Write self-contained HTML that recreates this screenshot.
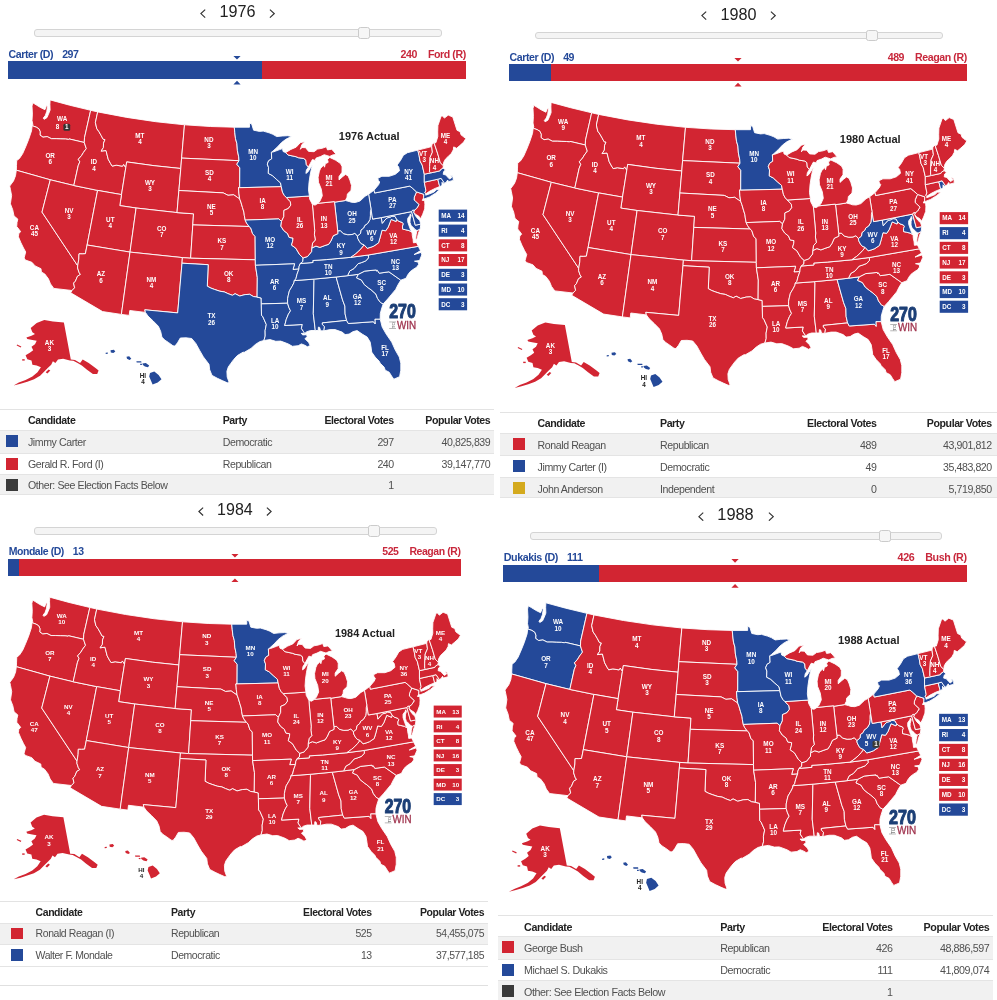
<!DOCTYPE html>
<html lang="en"><head><meta charset="utf-8"><title>Historical Presidential Elections 1976-1988</title>
<style>
html,body{margin:0;padding:0;background:#fff}
body{width:997px;height:1000px;position:relative;overflow:hidden;font-family:"Liberation Sans", Arial, sans-serif}
svg{display:block}
</style></head><body>
<svg style="position:absolute;left:0;top:0" width="997" height="1000" viewBox="0 0 997 1000">
<g transform="translate(0.00 0.00) scale(1.0000)">
<g stroke="#fff" stroke-width="0.9" stroke-linejoin="round">
<path d="M50.1 99.9 L49.9 104.4 L50.1 110.1 L48.5 114.1 L46.9 117.7 L44.1 119.3 L43.3 118.1 L45.3 115.5 L46.7 111.7 L47.5 106.5 L46.6 105.5 L44.9 109.7 L40.1 107.3 L36.1 104.8 L32.8 102.8 L32.0 106.1 L32.4 114.1 L32.0 120.5 L32.8 124.5 L32.2 125.7 L36.3 127.2 L39.0 128.9 L40.2 131.8 L40.0 135.1 L43.0 137.2 L47.2 136.6 L51.4 138.7 L56.2 138.7 L60.9 138.9 L65.6 139.0 L68.7 139.4 L69.0 138.9 L84.3 142.5 L84.5 137.7 L90.7 110.3 L69.6 105.2Z" fill="#d22532"/>
<path d="M32.2 125.7 L31.5 130.9 L28.7 139.3 L25.8 146.5 L22.7 153.6 L19.5 158.4 L16.7 160.6 L16.5 165.6 L16.3 170.2 L50.3 179.8 L73.8 185.5 L78.2 165.7 L79.8 161.8 L78.3 159.3 L81.6 155.5 L83.4 152.5 L86.3 148.6 L85.1 145.0 L84.3 142.5 L69.0 138.9 L68.7 139.4 L65.6 139.0 L60.9 138.9 L56.2 138.7 L51.4 138.7 L47.2 136.6 L43.0 137.2 L40.0 135.1 L40.2 131.8 L39.0 128.9 L36.3 127.2Z" fill="#d22532"/>
<path d="M16.3 170.2 L15.5 175.7 L13.5 180.9 L9.7 186.1 L10.4 189.3 L11.6 195.5 L10.4 203.8 L12.7 209.7 L14.0 215.9 L17.8 219.1 L17.0 222.5 L16.7 226.5 L19.1 229.5 L20.7 231.7 L18.8 233.5 L18.4 236.8 L20.9 242.7 L23.5 248.0 L25.7 252.0 L24.1 258.0 L25.3 260.0 L31.9 262.3 L35.1 265.9 L41.0 268.7 L41.4 272.0 L44.8 274.0 L48.4 278.8 L50.5 283.9 L53.8 288.4 L72.0 290.5 L74.6 287.8 L73.6 283.1 L75.4 281.2 L77.5 276.2 L80.4 274.5 L79.0 272.3 L77.6 268.0 L77.7 265.8 L42.0 212.1 L50.3 179.8Z" fill="#d22532"/>
<path d="M50.3 179.8 L73.8 185.5 L97.6 190.4 L87.1 245.0 L85.4 253.7 L82.2 253.9 L79.0 253.8 L78.8 259.2 L77.7 265.8 L42.0 212.1Z" fill="#d22532"/>
<path d="M97.7 111.9 L90.7 110.3 L84.5 137.7 L84.3 142.5 L85.1 145.0 L86.3 148.6 L83.4 152.5 L81.6 155.5 L78.3 159.3 L79.8 161.8 L78.2 165.7 L73.8 185.5 L97.6 190.4 L121.5 194.6 L125.8 167.6 L123.6 164.4 L122.5 166.2 L116.3 165.2 L112.2 166.1 L110.6 163.6 L108.2 159.2 L106.0 150.5 L101.1 151.1 L103.4 147.6 L103.5 143.2 L105.0 139.6 L103.1 139.2 L101.1 135.4 L98.9 131.6 L96.8 128.7 L95.4 122.5Z" fill="#d22532"/>
<path d="M184.5 124.8 L155.7 121.7 L126.8 117.4 L97.7 111.9 L95.4 122.5 L96.8 128.7 L98.9 131.6 L101.1 135.4 L103.1 139.2 L105.0 139.6 L103.5 143.2 L103.4 147.6 L101.1 151.1 L106.0 150.5 L108.2 159.2 L110.6 163.6 L112.2 166.1 L116.3 165.2 L122.5 166.2 L123.6 164.4 L125.8 167.6 L126.7 161.9 L154.1 165.7 L180.8 168.5 L181.6 158.1Z" fill="#d22532"/>
<path d="M125.8 167.6 L126.7 161.9 L154.1 165.7 L180.8 168.5 L178.9 190.5 L177.0 212.6 L136.1 208.0 L119.8 205.6 L121.5 194.6Z" fill="#d22532"/>
<path d="M97.6 190.4 L121.5 194.6 L119.8 205.6 L136.1 208.0 L130.0 252.1 L87.1 245.0Z" fill="#d22532"/>
<path d="M136.1 208.0 L177.0 212.6 L193.5 213.8 L192.8 224.9 L190.6 258.2 L182.4 257.6 L130.0 252.1Z" fill="#d22532"/>
<path d="M87.1 245.0 L130.0 252.1 L121.4 314.4 L102.6 311.6 L70.7 292.8 L72.0 290.5 L74.6 287.8 L73.6 283.1 L75.4 281.2 L77.5 276.2 L80.4 274.5 L79.0 272.3 L77.6 268.0 L77.7 265.8 L78.8 259.2 L79.0 253.8 L82.2 253.9 L85.4 253.7Z" fill="#d22532"/>
<path d="M130.0 252.1 L182.4 257.6 L182.0 263.2 L177.7 312.9 L144.8 309.8 L145.4 312.4 L129.8 310.5 L129.2 315.4 L121.4 314.4Z" fill="#d22532"/>
<path d="M234.3 127.2 L210.4 126.5 L184.5 124.8 L181.6 158.1 L239.0 160.7 L238.7 156.8 L237.4 150.5 L236.9 143.6 L235.5 138.7 L234.8 132.7Z" fill="#d22532"/>
<path d="M239.0 160.7 L181.6 158.1 L180.8 168.5 L178.9 190.5 L223.3 192.9 L228.0 195.3 L233.7 194.8 L237.7 197.6 L239.7 198.9 L238.9 193.2 L238.5 187.7 L239.7 187.7 L238.5 187.7 L239.7 187.7 L239.8 167.8 L236.8 164.2Z" fill="#d22532"/>
<path d="M239.7 198.9 L237.7 197.6 L233.7 194.8 L228.0 195.3 L223.3 192.9 L178.9 190.5 L177.0 212.6 L193.5 213.8 L192.8 224.9 L249.1 226.5 L246.6 223.2 L245.2 220.1 L244.3 215.4 L243.9 212.1 L242.5 207.6 L240.9 202.1Z" fill="#d22532"/>
<path d="M249.1 226.5 L192.8 224.9 L190.6 258.2 L255.3 259.8 L255.1 236.4 L252.6 233.7 L250.8 228.1Z" fill="#d22532"/>
<path d="M182.4 257.6 L190.6 258.2 L255.3 259.8 L255.4 265.3 L257.3 277.5 L257.1 297.1 L253.3 296.5 L249.7 294.3 L245.1 294.6 L239.7 296.0 L235.1 293.7 L232.4 295.3 L227.9 293.6 L224.3 291.9 L219.8 291.2 L214.4 289.4 L210.9 288.1 L207.3 286.2 L208.2 264.7 L182.0 263.2Z" fill="#d22532"/>
<path d="M182.0 263.2 L208.2 264.7 L207.3 286.2 L210.9 288.1 L214.4 289.4 L219.8 291.2 L224.3 291.9 L227.9 293.6 L232.4 295.3 L235.1 293.7 L239.7 296.0 L245.1 294.6 L249.7 294.3 L253.3 296.5 L257.1 297.1 L261.2 298.0 L261.3 303.9 L261.5 315.2 L262.9 316.8 L266.3 324.5 L265.1 330.6 L265.2 336.1 L263.9 340.5 L259.6 341.7 L255.3 344.5 L251.0 348.4 L244.3 352.3 L243.0 352.2 L237.3 355.6 L233.8 359.4 L230.8 363.4 L228.3 367.0 L226.9 371.3 L227.2 377.0 L229.2 382.6 L227.3 382.8 L222.3 380.6 L217.4 378.3 L212.0 375.4 L209.7 369.8 L209.0 364.3 L203.4 356.9 L199.8 350.7 L195.8 343.4 L191.7 338.5 L186.0 337.8 L180.3 338.0 L177.5 342.8 L174.9 346.1 L173.0 345.8 L168.4 342.4 L164.8 340.1 L161.9 337.1 L160.7 331.5 L158.4 326.3 L153.2 321.0 L148.0 316.1 L145.4 312.4 L144.8 309.8 L177.7 312.9Z" fill="#244999"/>
<path d="M291.6 136.4 L287.8 135.7 L282.2 136.0 L276.7 136.6 L272.9 134.3 L269.1 132.8 L263.2 131.1 L259.5 131.4 L253.6 130.2 L251.7 124.0 L249.5 123.1 L249.5 127.2 L234.3 127.2 L234.8 132.7 L235.5 138.7 L236.9 143.6 L237.4 150.5 L238.7 156.8 L239.0 160.7 L236.8 164.2 L239.8 167.8 L239.7 187.7 L281.3 186.7 L280.5 182.9 L276.3 179.2 L272.3 175.5 L268.3 173.4 L268.5 167.4 L267.3 164.1 L268.6 160.8 L271.7 158.8 L271.4 152.3 L272.8 151.2 L277.2 147.2 L281.5 142.6 L285.8 139.3Z" fill="#244999"/>
<path d="M238.5 187.7 L239.7 187.7 L281.3 186.7 L282.5 192.2 L284.3 195.4 L286.4 197.5 L290.3 201.7 L290.8 205.1 L288.3 208.5 L283.9 210.4 L283.8 216.6 L281.5 221.4 L278.7 218.9 L245.2 220.1 L244.3 215.4 L243.9 212.1 L242.5 207.6 L240.9 202.1 L239.7 198.9 L238.9 193.2Z" fill="#d22532"/>
<path d="M245.2 220.1 L278.7 218.9 L281.5 221.4 L280.9 226.2 L283.7 230.5 L287.6 233.6 L289.1 237.4 L293.0 238.1 L292.7 241.1 L291.5 245.1 L295.8 248.2 L299.6 254.6 L303.1 257.9 L302.8 261.6 L300.3 263.5 L299.1 266.3 L298.9 269.1 L293.0 269.5 L294.6 263.8 L255.4 265.3 L255.3 259.8 L255.1 236.4 L252.6 233.7 L250.8 228.1 L249.1 226.5 L246.6 223.2Z" fill="#244999"/>
<path d="M255.4 265.3 L294.6 263.8 L293.0 269.5 L298.9 269.1 L297.0 274.3 L295.9 278.8 L294.3 280.6 L293.9 282.8 L292.1 286.3 L289.4 290.8 L288.3 295.3 L287.6 298.7 L287.6 303.2 L261.3 303.9 L261.2 298.0 L257.1 297.1 L257.3 277.5Z" fill="#244999"/>
<path d="M261.3 303.9 L287.6 303.2 L288.9 307.5 L290.5 310.8 L288.4 314.2 L286.3 319.3 L284.7 325.5 L302.3 324.5 L301.4 328.4 L303.5 331.6 L304.8 333.4 L301.2 333.4 L302.8 334.9 L306.6 334.7 L307.2 336.8 L304.9 338.7 L308.5 342.3 L310.2 345.5 L307.4 346.8 L304.9 345.3 L301.4 343.9 L298.2 345.7 L292.4 346.3 L288.4 344.0 L283.5 342.1 L280.6 341.1 L275.8 341.3 L270.0 339.6 L263.9 340.5 L265.2 336.1 L265.1 330.6 L266.3 324.5 L262.9 316.8 L261.5 315.2Z" fill="#244999"/>
<path d="M294.3 280.6 L313.0 279.2 L314.0 280.3 L313.3 313.7 L315.3 330.5 L310.6 330.5 L306.8 331.7 L304.8 333.4 L303.5 331.6 L301.4 328.4 L302.3 324.5 L284.7 325.5 L286.3 319.3 L288.4 314.2 L290.5 310.8 L288.9 307.5 L287.6 303.2 L287.6 298.7 L288.3 295.3 L289.4 290.8 L292.1 286.3 L293.9 282.8Z" fill="#244999"/>
<path d="M313.0 279.2 L336.1 277.0 L342.6 300.1 L344.9 306.1 L345.1 313.9 L346.6 320.4 L322.3 322.9 L322.4 324.6 L324.5 326.6 L323.9 330.8 L320.6 330.8 L319.6 327.4 L318.4 327.1 L318.2 330.5 L315.3 330.5 L313.3 313.7 L314.0 280.3Z" fill="#244999"/>
<path d="M323.9 330.8 L330.1 329.6 L335.1 329.6 L342.1 332.1 L345.1 334.6 L349.1 334.1 L353.1 331.6 L357.1 330.6 L362.2 334.1 L367.2 337.1 L370.2 342.1 L371.2 348.1 L371.7 352.1 L375.2 357.1 L379.2 361.2 L380.2 363.2 L384.2 367.2 L385.2 370.2 L389.2 372.2 L391.7 376.2 L393.8 379.2 L399.6 376.7 L400.8 370.2 L400.8 363.2 L399.3 357.1 L395.3 350.1 L391.7 342.1 L386.2 334.1 L382.2 327.1 L380.2 319.1 L374.9 319.1 L375.1 323.8 L373.4 321.7 L348.3 323.5 L346.6 320.4 L322.3 322.9 L322.4 324.6 L324.5 326.6Z" fill="#244999"/>
<path d="M336.1 277.0 L347.5 275.7 L358.3 274.3 L356.6 277.9 L361.4 280.0 L364.3 284.6 L368.5 288.0 L371.1 289.8 L375.9 294.1 L377.5 298.4 L380.4 302.4 L383.2 303.9 L381.5 309.0 L380.3 313.6 L380.2 319.1 L374.9 319.1 L375.1 323.8 L373.4 321.7 L348.3 323.5 L346.6 320.4 L345.1 313.9 L344.9 306.1 L342.6 300.1Z" fill="#244999"/>
<path d="M358.3 274.3 L364.7 271.1 L376.3 269.9 L376.5 271.0 L377.4 270.3 L379.2 273.2 L388.9 271.8 L400.8 280.2 L398.1 284.6 L395.7 289.4 L391.7 294.2 L387.7 299.0 L383.2 303.9 L380.4 302.4 L377.5 298.4 L375.9 294.1 L371.1 289.8 L368.5 288.0 L364.3 284.6 L361.4 280.0 L356.6 277.9Z" fill="#244999"/>
<path d="M368.3 255.0 L418.4 246.3 L419.5 248.8 L420.6 250.6 L414.0 254.6 L421.2 252.4 L421.8 254.9 L419.8 259.7 L418.9 260.6 L414.5 261.2 L418.2 262.1 L418.6 264.5 L416.6 267.3 L413.3 269.3 L410.1 271.7 L407.7 274.9 L406.1 278.2 L400.8 280.2 L388.9 271.8 L379.2 273.2 L377.4 270.3 L376.5 271.0 L376.3 269.9 L364.7 271.1 L358.3 274.3 L347.5 275.7 L349.8 270.9 L354.0 268.5 L358.2 263.6 L361.2 262.7 L365.8 260.9 L368.5 257.8Z" fill="#244999"/>
<path d="M350.9 257.3 L326.3 259.6 L312.8 260.5 L312.9 262.5 L300.3 263.5 L299.1 266.3 L298.9 269.1 L297.0 274.3 L295.9 278.8 L294.3 280.6 L313.0 279.2 L336.1 277.0 L347.5 275.7 L349.8 270.9 L354.0 268.5 L358.2 263.6 L361.2 262.7 L365.8 260.9 L368.5 257.8 L368.3 255.0Z" fill="#244999"/>
<path d="M357.4 236.0 L354.9 233.2 L352.0 234.5 L347.8 234.7 L343.3 233.6 L340.4 230.6 L337.7 230.9 L337.8 233.7 L333.3 235.7 L330.9 241.0 L328.7 244.3 L324.9 245.5 L319.9 247.4 L315.9 246.1 L311.7 248.1 L311.6 251.5 L308.8 255.0 L307.6 256.5 L303.1 257.9 L302.8 261.6 L300.3 263.5 L312.9 262.5 L312.8 260.5 L326.3 259.6 L350.9 257.3 L355.6 253.9 L358.7 251.2 L361.7 248.0 L364.2 244.9 L361.1 243.6 L359.5 241.6 L357.8 238.4Z" fill="#244999"/>
<path d="M368.3 255.0 L418.4 246.3 L416.4 242.4 L413.4 242.8 L413.1 239.4 L412.3 235.6 L412.1 232.2 L409.1 230.6 L405.4 229.7 L402.6 229.1 L402.5 226.1 L403.4 223.9 L402.4 222.5 L398.9 221.3 L396.6 219.3 L396.1 221.5 L391.2 219.4 L388.2 227.1 L385.7 230.8 L382.0 230.2 L380.2 237.2 L378.5 242.9 L373.8 246.1 L371.0 247.2 L367.2 248.3 L364.2 244.9 L361.7 248.0 L358.7 251.2 L355.6 253.9 L350.9 257.3Z" fill="#d22532"/>
<path d="M417.0 230.6 L416.1 234.8 L415.7 238.9 L416.4 240.2 L417.5 237.3 L418.4 233.2 L420.2 229.0Z" fill="#d22532"/>
<path d="M357.4 236.0 L360.5 233.5 L360.9 230.1 L363.6 228.0 L364.8 225.4 L367.6 223.5 L369.9 219.7 L370.4 215.5 L370.4 211.8 L371.0 209.0 L372.6 219.1 L381.3 217.6 L382.3 223.3 L384.9 220.0 L387.1 217.9 L390.4 217.1 L391.9 216.1 L395.0 216.4 L396.6 219.3 L396.1 221.5 L391.2 219.4 L388.2 227.1 L385.7 230.8 L382.0 230.2 L380.2 237.2 L378.5 242.9 L373.8 246.1 L371.0 247.2 L367.2 248.3 L364.2 244.9 L361.1 243.6 L359.5 241.6 L357.8 238.4Z" fill="#244999"/>
<path d="M381.3 217.6 L411.6 211.6 L415.3 225.2 L420.8 224.1 L420.2 229.0 L417.0 230.6 L414.9 229.4 L413.8 227.9 L411.1 225.6 L410.0 222.5 L410.1 219.0 L411.1 215.4 L410.3 213.9 L409.8 215.5 L407.7 218.4 L407.7 221.8 L409.5 227.1 L410.7 230.3 L412.1 232.2 L409.1 230.6 L405.4 229.7 L402.6 229.1 L402.5 226.1 L403.4 223.9 L402.4 222.5 L398.9 221.3 L396.6 219.3 L395.0 216.4 L391.9 216.1 L390.4 217.1 L387.1 217.9 L384.9 220.0 L382.3 223.3Z" fill="#244999"/>
<path d="M411.6 211.6 L412.5 210.2 L414.5 210.1 L413.8 212.3 L414.8 214.6 L416.7 217.6 L419.7 220.4 L420.8 224.1 L415.3 225.2Z" fill="#244999"/>
<path d="M413.8 212.3 L415.6 214.4 L418.6 216.0 L420.6 218.7 L422.6 214.6 L424.7 208.9 L424.9 204.3 L424.6 200.4 L422.3 200.4 L423.6 197.8 L423.8 194.3 L416.5 191.9 L414.3 197.1 L414.1 200.0 L415.5 201.3 L419.0 204.6 L416.6 208.5 L414.5 210.1Z" fill="#d22532"/>
<path d="M374.1 190.1 L368.6 194.3 L371.0 209.0 L372.6 219.1 L381.3 217.6 L411.6 211.6 L412.5 210.2 L414.5 210.1 L416.6 208.5 L419.0 204.6 L415.5 201.3 L414.1 200.0 L414.3 197.1 L416.5 191.9 L412.6 188.3 L409.8 186.1 L374.6 193.0Z" fill="#244999"/>
<path d="M417.8 150.1 L407.4 152.7 L403.4 155.3 L400.5 160.4 L397.1 165.1 L398.7 167.0 L399.5 170.8 L395.3 174.3 L389.2 176.3 L381.9 176.3 L377.8 178.3 L378.4 180.6 L379.7 182.0 L378.6 184.7 L374.1 190.1 L374.6 193.0 L409.8 186.1 L412.6 188.3 L416.5 191.9 L423.8 194.3 L423.6 197.8 L424.5 198.9 L429.6 196.9 L435.5 193.2 L439.9 189.5 L436.3 189.8 L433.9 192.1 L429.7 193.8 L425.7 195.2 L425.8 193.8 L424.9 192.9 L425.9 190.4 L424.3 182.2 L424.3 174.2 L422.2 165.1 L420.0 161.0 L419.1 155.6Z" fill="#244999"/>
<path d="M424.3 182.2 L437.8 179.2 L439.5 185.8 L439.3 186.8 L435.1 188.4 L429.8 191.1 L425.8 193.8 L424.9 192.9 L425.9 190.4Z" fill="#d22532"/>
<path d="M437.8 179.2 L441.1 178.3 L442.9 180.9 L444.6 183.3 L443.2 183.7 L442.0 182.3 L442.0 185.5 L439.3 186.8 L439.5 185.8Z" fill="#244999"/>
<path d="M424.3 182.2 L424.3 174.2 L430.7 172.9 L439.8 170.9 L440.3 169.8 L443.0 168.0 L445.4 169.9 L443.7 171.5 L443.2 174.3 L445.9 175.0 L447.8 177.3 L449.6 179.1 L452.0 177.3 L450.2 175.3 L452.0 175.6 L453.0 177.6 L453.3 180.4 L448.4 181.7 L447.7 180.0 L446.2 182.3 L444.6 183.3 L442.9 180.9 L441.1 178.3 L437.8 179.2Z" fill="#244999"/>
<path d="M417.8 150.1 L431.7 146.6 L432.4 152.2 L430.1 157.4 L429.9 161.4 L429.6 166.6 L429.6 171.8 L430.7 172.9 L424.3 174.2 L422.2 165.1 L420.0 161.0 L419.1 155.6Z" fill="#d22532"/>
<path d="M431.7 146.6 L431.9 144.4 L434.0 142.6 L437.5 153.1 L440.3 162.7 L443.4 165.7 L443.0 168.0 L440.3 169.8 L439.8 170.9 L430.7 172.9 L429.6 171.8 L429.6 166.6 L429.9 161.4 L430.1 157.4 L432.4 152.2Z" fill="#d22532"/>
<path d="M443.4 165.7 L443.7 162.3 L445.6 158.9 L448.2 156.5 L451.4 153.3 L453.3 149.8 L453.7 146.9 L456.6 148.3 L459.8 145.6 L463.7 142.1 L465.8 138.5 L462.6 136.1 L461.0 134.8 L460.1 131.7 L457.0 130.3 L452.8 117.0 L448.2 115.1 L444.4 118.1 L442.6 116.0 L441.2 116.0 L437.9 125.6 L437.7 131.9 L437.8 136.5 L435.9 142.7 L434.0 142.6 L437.5 153.1 L440.3 162.7Z" fill="#d22532"/>
<path d="M368.6 194.3 L365.0 196.3 L359.9 201.1 L355.2 202.5 L351.4 202.3 L349.2 201.5 L345.4 200.5 L334.5 202.2 L337.7 230.9 L340.4 230.6 L343.3 233.6 L347.8 234.7 L352.0 234.5 L354.9 233.2 L357.4 236.0 L360.5 233.5 L360.9 230.1 L363.6 228.0 L364.8 225.4 L367.6 223.5 L369.9 219.7 L370.4 215.5 L370.4 211.8 L371.0 209.0Z" fill="#244999"/>
<path d="M318.0 203.3 L315.1 205.1 L312.4 204.5 L314.7 230.5 L314.4 234.5 L315.3 240.0 L312.6 243.0 L311.7 248.1 L315.9 246.1 L319.9 247.4 L324.9 245.5 L328.7 244.3 L330.9 241.0 L333.3 235.7 L337.8 233.7 L337.7 230.9 L334.5 202.2 L334.4 201.6Z" fill="#d22532"/>
<path d="M312.4 204.5 L311.4 202.4 L309.7 199.2 L309.4 196.0 L286.4 197.5 L290.3 201.7 L290.8 205.1 L288.3 208.5 L283.9 210.4 L283.8 216.6 L281.5 221.4 L280.9 226.2 L283.7 230.5 L287.6 233.6 L289.1 237.4 L293.0 238.1 L292.7 241.1 L291.5 245.1 L295.8 248.2 L299.6 254.6 L303.1 257.9 L307.6 256.5 L308.8 255.0 L311.6 251.5 L311.7 248.1 L312.6 243.0 L315.3 240.0 L314.4 234.5 L314.7 230.5Z" fill="#d22532"/>
<path d="M309.4 196.0 L308.5 189.9 L309.0 182.6 L310.0 175.8 L311.1 170.2 L312.5 164.8 L310.1 168.6 L307.7 172.2 L305.9 173.4 L306.4 170.1 L308.4 167.1 L306.3 164.5 L305.9 160.2 L303.8 158.5 L298.4 157.7 L296.0 156.7 L288.1 155.0 L285.7 152.6 L283.1 151.5 L282.5 148.6 L279.6 149.6 L273.6 151.8 L271.4 152.3 L271.7 158.8 L268.6 160.8 L267.3 164.1 L268.5 167.4 L268.3 173.4 L272.3 175.5 L276.3 179.2 L280.5 182.9 L281.3 186.7 L282.5 192.2 L284.3 195.4 L286.4 197.5Z" fill="#244999"/>
<path d="M345.4 200.5 L347.0 197.3 L347.4 193.9 L351.0 190.6 L351.5 185.5 L349.9 180.1 L348.1 175.9 L345.5 174.4 L342.6 176.7 L339.0 179.9 L339.0 176.6 L342.0 172.3 L342.1 166.7 L340.5 163.6 L335.8 160.3 L329.7 157.4 L327.5 159.6 L328.2 162.3 L325.3 163.8 L324.5 167.2 L323.8 165.0 L320.7 168.2 L319.4 171.1 L318.1 177.3 L318.5 182.3 L321.3 189.2 L322.3 195.8 L320.0 201.0 L318.0 203.3 L334.4 201.6 L334.5 202.2Z" fill="#d22532"/>
<path d="M308.4 167.1 L311.1 161.9 L312.4 159.6 L315.2 160.4 L316.1 158.1 L320.6 156.5 L324.2 154.7 L329.7 156.4 L332.8 154.9 L336.2 154.4 L333.9 151.7 L331.7 149.2 L327.5 149.9 L326.4 146.8 L322.0 148.3 L317.5 149.1 L314.0 151.7 L308.6 151.4 L305.6 147.7 L301.8 147.5 L300.4 149.3 L301.9 144.5 L305.0 141.5 L300.3 142.7 L296.1 147.2 L290.9 149.4 L285.7 152.6 L288.1 155.0 L296.0 156.7 L298.4 157.7 L303.8 158.5 L305.9 160.2 L306.3 164.5Z" fill="#d22532"/>
</g>
<g fill="#d22532">
<path d="M30.7 328.0 L36.7 322.9 L44.3 320.0 L52.9 321.5 L63.9 322.6 L70.8 359.6 L75.0 359.9 L80.1 363.0 L82.7 359.6 L88.7 363.0 L95.5 368.1 L98.6 370.6 L97.2 374.1 L92.9 374.1 L87.0 369.8 L81.8 365.5 L77.6 363.0 L73.3 360.8 L69.9 360.4 L63.1 358.7 L58.0 359.6 L55.4 363.0 L52.9 361.3 L51.2 364.7 L47.7 368.1 L44.3 371.5 L40.1 375.8 L34.1 379.2 L27.3 381.7 L20.5 383.8 L13.6 385.5 L18.8 382.6 L25.6 380.0 L32.4 376.6 L37.5 372.3 L40.9 367.2 L36.7 365.5 L32.4 364.7 L31.5 360.4 L27.3 359.2 L25.6 355.3 L29.8 352.7 L33.2 350.2 L31.5 346.8 L35.0 344.2 L36.7 340.8 L32.4 340.0 L27.3 339.1 L26.4 337.4 L31.5 335.7 L35.0 334.0 L32.4 332.3Z"/>
<path d="M17.1 344.6 L21.3 346.4 L20.8 347.6 L16.7 345.6Z"/>
<path d="M45.7 372.3 L48.6 369.5 L50.3 370.6 L47.4 373.5Z"/>
<path d="M22.2 359.2 L24.7 359.2 L24.7 360.6 L22.2 360.6Z"/>
</g><g fill="#244999">
<path d="M110.5 350.2 L113.9 349.7 L115.3 351.4 L113.4 353.1 L110.8 352.4Z"/>
<path d="M105.7 352.7 L107.8 352.4 L107.8 353.8 L105.7 354.1Z"/>
<path d="M126.5 356.7 L129.2 356.2 L131.3 358.7 L129.6 359.9 L127.0 358.7Z"/>
<path d="M136.4 361.3 L141.2 361.3 L141.5 362.6 L136.7 362.6Z"/>
<path d="M142.4 363.5 L145.8 363.0 L149.2 365.5 L148.0 367.2 L144.9 366.4 L142.9 365.0Z"/>
<path d="M140.2 363.8 L141.9 363.8 L141.9 365.0 L140.2 365.0Z"/>
<path d="M150.0 372.9 L154.3 371.5 L158.6 374.9 L161.5 379.2 L157.7 382.6 L152.6 384.6 L150.9 380.4 L149.2 376.6Z"/>
</g>
<rect x="438.7" y="209.6" width="28.4" height="12.1" fill="#244999"/>
<rect x="438.7" y="224.6" width="28.4" height="12.1" fill="#244999"/>
<rect x="438.7" y="239.3" width="28.4" height="12.1" fill="#d22532"/>
<rect x="438.7" y="254.0" width="28.4" height="12.1" fill="#d22532"/>
<rect x="438.7" y="268.8" width="28.4" height="12.1" fill="#244999"/>
<rect x="438.7" y="283.5" width="28.4" height="12.1" fill="#244999"/>
<rect x="438.7" y="298.2" width="28.4" height="12.1" fill="#244999"/>
<g font-family="Liberation Sans, Arial, sans-serif" font-weight="bold" font-size="6.3" fill="#fff" text-anchor="middle">
<text x="62.2" y="121.0">WA</text>
<text x="57.6" y="129.4">8</text>
<rect x="63.4" y="123.7" width="6.8" height="7" rx="1.5" fill="#333"/>
<text x="66.8" y="129.4">1</text>
<text x="50.2" y="157.9">OR</text>
<text x="50.2" y="164.2">6</text>
<text x="94.0" y="164.2">ID</text>
<text x="94.0" y="170.5">4</text>
<text x="139.9" y="137.8">MT</text>
<text x="139.9" y="144.1">4</text>
<text x="208.9" y="141.6">ND</text>
<text x="208.9" y="147.9">3</text>
<text x="209.4" y="174.9">SD</text>
<text x="209.4" y="181.2">4</text>
<text x="150.0" y="185.0">WY</text>
<text x="150.0" y="191.3">3</text>
<text x="211.4" y="208.8">NE</text>
<text x="211.4" y="215.1">5</text>
<text x="69.0" y="213.1">NV</text>
<text x="69.0" y="219.4">3</text>
<text x="110.3" y="222.1">UT</text>
<text x="110.3" y="228.4">4</text>
<text x="161.7" y="230.9">CO</text>
<text x="161.7" y="237.2">7</text>
<text x="221.9" y="243.4">KS</text>
<text x="221.9" y="249.7">7</text>
<text x="34.4" y="230.1">CA</text>
<text x="34.4" y="236.4">45</text>
<text x="101.0" y="276.3">AZ</text>
<text x="101.0" y="282.6">6</text>
<text x="151.4" y="281.7">NM</text>
<text x="151.4" y="288.0">4</text>
<text x="228.7" y="276.0">OK</text>
<text x="228.7" y="282.3">8</text>
<text x="211.4" y="318.2">TX</text>
<text x="211.4" y="324.5">26</text>
<text x="253.1" y="153.6">MN</text>
<text x="253.1" y="159.9">10</text>
<text x="289.7" y="173.7">WI</text>
<text x="289.7" y="180.0">11</text>
<text x="329.0" y="180.0">MI</text>
<text x="329.0" y="186.3">21</text>
<text x="262.6" y="202.5">IA</text>
<text x="262.6" y="208.8">8</text>
<text x="299.7" y="221.8">IL</text>
<text x="299.7" y="228.1">26</text>
<text x="324.0" y="221.3">IN</text>
<text x="324.0" y="227.6">13</text>
<text x="352.1" y="216.3">OH</text>
<text x="352.1" y="222.6">25</text>
<text x="392.5" y="201.8">PA</text>
<text x="392.5" y="208.1">27</text>
<text x="408.5" y="173.7">NY</text>
<text x="408.5" y="180.0">41</text>
<text x="423.1" y="156.1">VT</text>
<text x="424.3" y="162.4">3</text>
<text x="434.4" y="163.2">NH</text>
<text x="434.4" y="169.5">4</text>
<text x="445.6" y="138.1">ME</text>
<text x="445.6" y="144.4">4</text>
<text x="371.7" y="234.6">WV</text>
<text x="371.7" y="240.9">6</text>
<text x="393.5" y="238.1">VA</text>
<text x="393.5" y="244.4">12</text>
<text x="341.1" y="248.2">KY</text>
<text x="341.1" y="254.5">9</text>
<text x="270.1" y="241.9">MO</text>
<text x="270.1" y="248.2">12</text>
<text x="328.3" y="269.0">TN</text>
<text x="328.3" y="275.3">10</text>
<text x="395.5" y="264.0">NC</text>
<text x="395.5" y="270.3">13</text>
<text x="274.6" y="283.5">AR</text>
<text x="274.6" y="289.8">6</text>
<text x="381.7" y="284.8">SC</text>
<text x="381.7" y="291.1">8</text>
<text x="301.5" y="303.2">MS</text>
<text x="301.5" y="309.5">7</text>
<text x="327.3" y="300.4">AL</text>
<text x="327.3" y="306.7">9</text>
<text x="357.4" y="298.7">GA</text>
<text x="357.4" y="305.0">12</text>
<text x="275.1" y="323.0">LA</text>
<text x="275.1" y="329.3">10</text>
<text x="385.0" y="350.1">FL</text>
<text x="385.0" y="356.4">17</text>
<text x="49.4" y="345.1">AK</text>
<text x="49.4" y="351.4">3</text>
<text x="142.9" y="377.7" fill="#222">HI</text>
<text x="142.9" y="384.0" fill="#222">4</text>
<text x="441.3" y="217.9" text-anchor="start">MA</text>
<text x="464.6" y="217.9" text-anchor="end">14</text>
<text x="441.3" y="232.9" text-anchor="start">RI</text>
<text x="464.6" y="232.9" text-anchor="end">4</text>
<text x="441.3" y="247.6" text-anchor="start">CT</text>
<text x="464.6" y="247.6" text-anchor="end">8</text>
<text x="441.3" y="262.3" text-anchor="start">NJ</text>
<text x="464.6" y="262.3" text-anchor="end">17</text>
<text x="441.3" y="277.1" text-anchor="start">DE</text>
<text x="464.6" y="277.1" text-anchor="end">3</text>
<text x="441.3" y="291.8" text-anchor="start">MD</text>
<text x="464.6" y="291.8" text-anchor="end">10</text>
<text x="441.3" y="306.5" text-anchor="start">DC</text>
<text x="464.6" y="306.5" text-anchor="end">3</text>
</g>
<text x="369.2" y="140.2" font-family="Liberation Sans, Arial, sans-serif" font-weight="bold" font-size="11" fill="#222" text-anchor="middle">1976 Actual</text>
<g font-family="Liberation Sans, Arial, sans-serif" font-weight="bold"><text x="389.2" y="318.1" font-size="19.6" fill="#1c3f76" textLength="26.6" lengthAdjust="spacingAndGlyphs" stroke="#1c3f76" stroke-width="1.1" stroke-linejoin="round">270</text><text x="397.0" y="328.7" font-size="10.4" font-weight="normal" fill="#a0354f" stroke="#a0354f" stroke-width="0.3" textLength="19.2" lengthAdjust="spacingAndGlyphs">WIN</text><text transform="translate(395.3,328.3) rotate(-90)" font-size="4.4" fill="#858585" textLength="6.2" lengthAdjust="spacingAndGlyphs">TO</text><rect x="389.2" y="321.6" width="6.8" height="0.7" fill="#999"/><rect x="389.2" y="328.0" width="6.8" height="0.7" fill="#999"/></g>
</g>
<g transform="translate(501.00 2.50) scale(1.0000)">
<g stroke="#fff" stroke-width="0.9" stroke-linejoin="round">
<path d="M50.1 99.9 L49.9 104.4 L50.1 110.1 L48.5 114.1 L46.9 117.7 L44.1 119.3 L43.3 118.1 L45.3 115.5 L46.7 111.7 L47.5 106.5 L46.6 105.5 L44.9 109.7 L40.1 107.3 L36.1 104.8 L32.8 102.8 L32.0 106.1 L32.4 114.1 L32.0 120.5 L32.8 124.5 L32.2 125.7 L36.3 127.2 L39.0 128.9 L40.2 131.8 L40.0 135.1 L43.0 137.2 L47.2 136.6 L51.4 138.7 L56.2 138.7 L60.9 138.9 L65.6 139.0 L68.7 139.4 L69.0 138.9 L84.3 142.5 L84.5 137.7 L90.7 110.3 L69.6 105.2Z" fill="#d22532"/>
<path d="M32.2 125.7 L31.5 130.9 L28.7 139.3 L25.8 146.5 L22.7 153.6 L19.5 158.4 L16.7 160.6 L16.5 165.6 L16.3 170.2 L50.3 179.8 L73.8 185.5 L78.2 165.7 L79.8 161.8 L78.3 159.3 L81.6 155.5 L83.4 152.5 L86.3 148.6 L85.1 145.0 L84.3 142.5 L69.0 138.9 L68.7 139.4 L65.6 139.0 L60.9 138.9 L56.2 138.7 L51.4 138.7 L47.2 136.6 L43.0 137.2 L40.0 135.1 L40.2 131.8 L39.0 128.9 L36.3 127.2Z" fill="#d22532"/>
<path d="M16.3 170.2 L15.5 175.7 L13.5 180.9 L9.7 186.1 L10.4 189.3 L11.6 195.5 L10.4 203.8 L12.7 209.7 L14.0 215.9 L17.8 219.1 L17.0 222.5 L16.7 226.5 L19.1 229.5 L20.7 231.7 L18.8 233.5 L18.4 236.8 L20.9 242.7 L23.5 248.0 L25.7 252.0 L24.1 258.0 L25.3 260.0 L31.9 262.3 L35.1 265.9 L41.0 268.7 L41.4 272.0 L44.8 274.0 L48.4 278.8 L50.5 283.9 L53.8 288.4 L72.0 290.5 L74.6 287.8 L73.6 283.1 L75.4 281.2 L77.5 276.2 L80.4 274.5 L79.0 272.3 L77.6 268.0 L77.7 265.8 L42.0 212.1 L50.3 179.8Z" fill="#d22532"/>
<path d="M50.3 179.8 L73.8 185.5 L97.6 190.4 L87.1 245.0 L85.4 253.7 L82.2 253.9 L79.0 253.8 L78.8 259.2 L77.7 265.8 L42.0 212.1Z" fill="#d22532"/>
<path d="M97.7 111.9 L90.7 110.3 L84.5 137.7 L84.3 142.5 L85.1 145.0 L86.3 148.6 L83.4 152.5 L81.6 155.5 L78.3 159.3 L79.8 161.8 L78.2 165.7 L73.8 185.5 L97.6 190.4 L121.5 194.6 L125.8 167.6 L123.6 164.4 L122.5 166.2 L116.3 165.2 L112.2 166.1 L110.6 163.6 L108.2 159.2 L106.0 150.5 L101.1 151.1 L103.4 147.6 L103.5 143.2 L105.0 139.6 L103.1 139.2 L101.1 135.4 L98.9 131.6 L96.8 128.7 L95.4 122.5Z" fill="#d22532"/>
<path d="M184.5 124.8 L155.7 121.7 L126.8 117.4 L97.7 111.9 L95.4 122.5 L96.8 128.7 L98.9 131.6 L101.1 135.4 L103.1 139.2 L105.0 139.6 L103.5 143.2 L103.4 147.6 L101.1 151.1 L106.0 150.5 L108.2 159.2 L110.6 163.6 L112.2 166.1 L116.3 165.2 L122.5 166.2 L123.6 164.4 L125.8 167.6 L126.7 161.9 L154.1 165.7 L180.8 168.5 L181.6 158.1Z" fill="#d22532"/>
<path d="M125.8 167.6 L126.7 161.9 L154.1 165.7 L180.8 168.5 L178.9 190.5 L177.0 212.6 L136.1 208.0 L119.8 205.6 L121.5 194.6Z" fill="#d22532"/>
<path d="M97.6 190.4 L121.5 194.6 L119.8 205.6 L136.1 208.0 L130.0 252.1 L87.1 245.0Z" fill="#d22532"/>
<path d="M136.1 208.0 L177.0 212.6 L193.5 213.8 L192.8 224.9 L190.6 258.2 L182.4 257.6 L130.0 252.1Z" fill="#d22532"/>
<path d="M87.1 245.0 L130.0 252.1 L121.4 314.4 L102.6 311.6 L70.7 292.8 L72.0 290.5 L74.6 287.8 L73.6 283.1 L75.4 281.2 L77.5 276.2 L80.4 274.5 L79.0 272.3 L77.6 268.0 L77.7 265.8 L78.8 259.2 L79.0 253.8 L82.2 253.9 L85.4 253.7Z" fill="#d22532"/>
<path d="M130.0 252.1 L182.4 257.6 L182.0 263.2 L177.7 312.9 L144.8 309.8 L145.4 312.4 L129.8 310.5 L129.2 315.4 L121.4 314.4Z" fill="#d22532"/>
<path d="M234.3 127.2 L210.4 126.5 L184.5 124.8 L181.6 158.1 L239.0 160.7 L238.7 156.8 L237.4 150.5 L236.9 143.6 L235.5 138.7 L234.8 132.7Z" fill="#d22532"/>
<path d="M239.0 160.7 L181.6 158.1 L180.8 168.5 L178.9 190.5 L223.3 192.9 L228.0 195.3 L233.7 194.8 L237.7 197.6 L239.7 198.9 L238.9 193.2 L238.5 187.7 L239.7 187.7 L238.5 187.7 L239.7 187.7 L239.8 167.8 L236.8 164.2Z" fill="#d22532"/>
<path d="M239.7 198.9 L237.7 197.6 L233.7 194.8 L228.0 195.3 L223.3 192.9 L178.9 190.5 L177.0 212.6 L193.5 213.8 L192.8 224.9 L249.1 226.5 L246.6 223.2 L245.2 220.1 L244.3 215.4 L243.9 212.1 L242.5 207.6 L240.9 202.1Z" fill="#d22532"/>
<path d="M249.1 226.5 L192.8 224.9 L190.6 258.2 L255.3 259.8 L255.1 236.4 L252.6 233.7 L250.8 228.1Z" fill="#d22532"/>
<path d="M182.4 257.6 L190.6 258.2 L255.3 259.8 L255.4 265.3 L257.3 277.5 L257.1 297.1 L253.3 296.5 L249.7 294.3 L245.1 294.6 L239.7 296.0 L235.1 293.7 L232.4 295.3 L227.9 293.6 L224.3 291.9 L219.8 291.2 L214.4 289.4 L210.9 288.1 L207.3 286.2 L208.2 264.7 L182.0 263.2Z" fill="#d22532"/>
<path d="M182.0 263.2 L208.2 264.7 L207.3 286.2 L210.9 288.1 L214.4 289.4 L219.8 291.2 L224.3 291.9 L227.9 293.6 L232.4 295.3 L235.1 293.7 L239.7 296.0 L245.1 294.6 L249.7 294.3 L253.3 296.5 L257.1 297.1 L261.2 298.0 L261.3 303.9 L261.5 315.2 L262.9 316.8 L266.3 324.5 L265.1 330.6 L265.2 336.1 L263.9 340.5 L259.6 341.7 L255.3 344.5 L251.0 348.4 L244.3 352.3 L243.0 352.2 L237.3 355.6 L233.8 359.4 L230.8 363.4 L228.3 367.0 L226.9 371.3 L227.2 377.0 L229.2 382.6 L227.3 382.8 L222.3 380.6 L217.4 378.3 L212.0 375.4 L209.7 369.8 L209.0 364.3 L203.4 356.9 L199.8 350.7 L195.8 343.4 L191.7 338.5 L186.0 337.8 L180.3 338.0 L177.5 342.8 L174.9 346.1 L173.0 345.8 L168.4 342.4 L164.8 340.1 L161.9 337.1 L160.7 331.5 L158.4 326.3 L153.2 321.0 L148.0 316.1 L145.4 312.4 L144.8 309.8 L177.7 312.9Z" fill="#d22532"/>
<path d="M291.6 136.4 L287.8 135.7 L282.2 136.0 L276.7 136.6 L272.9 134.3 L269.1 132.8 L263.2 131.1 L259.5 131.4 L253.6 130.2 L251.7 124.0 L249.5 123.1 L249.5 127.2 L234.3 127.2 L234.8 132.7 L235.5 138.7 L236.9 143.6 L237.4 150.5 L238.7 156.8 L239.0 160.7 L236.8 164.2 L239.8 167.8 L239.7 187.7 L281.3 186.7 L280.5 182.9 L276.3 179.2 L272.3 175.5 L268.3 173.4 L268.5 167.4 L267.3 164.1 L268.6 160.8 L271.7 158.8 L271.4 152.3 L272.8 151.2 L277.2 147.2 L281.5 142.6 L285.8 139.3Z" fill="#244999"/>
<path d="M238.5 187.7 L239.7 187.7 L281.3 186.7 L282.5 192.2 L284.3 195.4 L286.4 197.5 L290.3 201.7 L290.8 205.1 L288.3 208.5 L283.9 210.4 L283.8 216.6 L281.5 221.4 L278.7 218.9 L245.2 220.1 L244.3 215.4 L243.9 212.1 L242.5 207.6 L240.9 202.1 L239.7 198.9 L238.9 193.2Z" fill="#d22532"/>
<path d="M245.2 220.1 L278.7 218.9 L281.5 221.4 L280.9 226.2 L283.7 230.5 L287.6 233.6 L289.1 237.4 L293.0 238.1 L292.7 241.1 L291.5 245.1 L295.8 248.2 L299.6 254.6 L303.1 257.9 L302.8 261.6 L300.3 263.5 L299.1 266.3 L298.9 269.1 L293.0 269.5 L294.6 263.8 L255.4 265.3 L255.3 259.8 L255.1 236.4 L252.6 233.7 L250.8 228.1 L249.1 226.5 L246.6 223.2Z" fill="#d22532"/>
<path d="M255.4 265.3 L294.6 263.8 L293.0 269.5 L298.9 269.1 L297.0 274.3 L295.9 278.8 L294.3 280.6 L293.9 282.8 L292.1 286.3 L289.4 290.8 L288.3 295.3 L287.6 298.7 L287.6 303.2 L261.3 303.9 L261.2 298.0 L257.1 297.1 L257.3 277.5Z" fill="#d22532"/>
<path d="M261.3 303.9 L287.6 303.2 L288.9 307.5 L290.5 310.8 L288.4 314.2 L286.3 319.3 L284.7 325.5 L302.3 324.5 L301.4 328.4 L303.5 331.6 L304.8 333.4 L301.2 333.4 L302.8 334.9 L306.6 334.7 L307.2 336.8 L304.9 338.7 L308.5 342.3 L310.2 345.5 L307.4 346.8 L304.9 345.3 L301.4 343.9 L298.2 345.7 L292.4 346.3 L288.4 344.0 L283.5 342.1 L280.6 341.1 L275.8 341.3 L270.0 339.6 L263.9 340.5 L265.2 336.1 L265.1 330.6 L266.3 324.5 L262.9 316.8 L261.5 315.2Z" fill="#d22532"/>
<path d="M294.3 280.6 L313.0 279.2 L314.0 280.3 L313.3 313.7 L315.3 330.5 L310.6 330.5 L306.8 331.7 L304.8 333.4 L303.5 331.6 L301.4 328.4 L302.3 324.5 L284.7 325.5 L286.3 319.3 L288.4 314.2 L290.5 310.8 L288.9 307.5 L287.6 303.2 L287.6 298.7 L288.3 295.3 L289.4 290.8 L292.1 286.3 L293.9 282.8Z" fill="#d22532"/>
<path d="M313.0 279.2 L336.1 277.0 L342.6 300.1 L344.9 306.1 L345.1 313.9 L346.6 320.4 L322.3 322.9 L322.4 324.6 L324.5 326.6 L323.9 330.8 L320.6 330.8 L319.6 327.4 L318.4 327.1 L318.2 330.5 L315.3 330.5 L313.3 313.7 L314.0 280.3Z" fill="#d22532"/>
<path d="M323.9 330.8 L330.1 329.6 L335.1 329.6 L342.1 332.1 L345.1 334.6 L349.1 334.1 L353.1 331.6 L357.1 330.6 L362.2 334.1 L367.2 337.1 L370.2 342.1 L371.2 348.1 L371.7 352.1 L375.2 357.1 L379.2 361.2 L380.2 363.2 L384.2 367.2 L385.2 370.2 L389.2 372.2 L391.7 376.2 L393.8 379.2 L399.6 376.7 L400.8 370.2 L400.8 363.2 L399.3 357.1 L395.3 350.1 L391.7 342.1 L386.2 334.1 L382.2 327.1 L380.2 319.1 L374.9 319.1 L375.1 323.8 L373.4 321.7 L348.3 323.5 L346.6 320.4 L322.3 322.9 L322.4 324.6 L324.5 326.6Z" fill="#d22532"/>
<path d="M336.1 277.0 L347.5 275.7 L358.3 274.3 L356.6 277.9 L361.4 280.0 L364.3 284.6 L368.5 288.0 L371.1 289.8 L375.9 294.1 L377.5 298.4 L380.4 302.4 L383.2 303.9 L381.5 309.0 L380.3 313.6 L380.2 319.1 L374.9 319.1 L375.1 323.8 L373.4 321.7 L348.3 323.5 L346.6 320.4 L345.1 313.9 L344.9 306.1 L342.6 300.1Z" fill="#244999"/>
<path d="M358.3 274.3 L364.7 271.1 L376.3 269.9 L376.5 271.0 L377.4 270.3 L379.2 273.2 L388.9 271.8 L400.8 280.2 L398.1 284.6 L395.7 289.4 L391.7 294.2 L387.7 299.0 L383.2 303.9 L380.4 302.4 L377.5 298.4 L375.9 294.1 L371.1 289.8 L368.5 288.0 L364.3 284.6 L361.4 280.0 L356.6 277.9Z" fill="#d22532"/>
<path d="M368.3 255.0 L418.4 246.3 L419.5 248.8 L420.6 250.6 L414.0 254.6 L421.2 252.4 L421.8 254.9 L419.8 259.7 L418.9 260.6 L414.5 261.2 L418.2 262.1 L418.6 264.5 L416.6 267.3 L413.3 269.3 L410.1 271.7 L407.7 274.9 L406.1 278.2 L400.8 280.2 L388.9 271.8 L379.2 273.2 L377.4 270.3 L376.5 271.0 L376.3 269.9 L364.7 271.1 L358.3 274.3 L347.5 275.7 L349.8 270.9 L354.0 268.5 L358.2 263.6 L361.2 262.7 L365.8 260.9 L368.5 257.8Z" fill="#d22532"/>
<path d="M350.9 257.3 L326.3 259.6 L312.8 260.5 L312.9 262.5 L300.3 263.5 L299.1 266.3 L298.9 269.1 L297.0 274.3 L295.9 278.8 L294.3 280.6 L313.0 279.2 L336.1 277.0 L347.5 275.7 L349.8 270.9 L354.0 268.5 L358.2 263.6 L361.2 262.7 L365.8 260.9 L368.5 257.8 L368.3 255.0Z" fill="#d22532"/>
<path d="M357.4 236.0 L354.9 233.2 L352.0 234.5 L347.8 234.7 L343.3 233.6 L340.4 230.6 L337.7 230.9 L337.8 233.7 L333.3 235.7 L330.9 241.0 L328.7 244.3 L324.9 245.5 L319.9 247.4 L315.9 246.1 L311.7 248.1 L311.6 251.5 L308.8 255.0 L307.6 256.5 L303.1 257.9 L302.8 261.6 L300.3 263.5 L312.9 262.5 L312.8 260.5 L326.3 259.6 L350.9 257.3 L355.6 253.9 L358.7 251.2 L361.7 248.0 L364.2 244.9 L361.1 243.6 L359.5 241.6 L357.8 238.4Z" fill="#d22532"/>
<path d="M368.3 255.0 L418.4 246.3 L416.4 242.4 L413.4 242.8 L413.1 239.4 L412.3 235.6 L412.1 232.2 L409.1 230.6 L405.4 229.7 L402.6 229.1 L402.5 226.1 L403.4 223.9 L402.4 222.5 L398.9 221.3 L396.6 219.3 L396.1 221.5 L391.2 219.4 L388.2 227.1 L385.7 230.8 L382.0 230.2 L380.2 237.2 L378.5 242.9 L373.8 246.1 L371.0 247.2 L367.2 248.3 L364.2 244.9 L361.7 248.0 L358.7 251.2 L355.6 253.9 L350.9 257.3Z" fill="#d22532"/>
<path d="M417.0 230.6 L416.1 234.8 L415.7 238.9 L416.4 240.2 L417.5 237.3 L418.4 233.2 L420.2 229.0Z" fill="#d22532"/>
<path d="M357.4 236.0 L360.5 233.5 L360.9 230.1 L363.6 228.0 L364.8 225.4 L367.6 223.5 L369.9 219.7 L370.4 215.5 L370.4 211.8 L371.0 209.0 L372.6 219.1 L381.3 217.6 L382.3 223.3 L384.9 220.0 L387.1 217.9 L390.4 217.1 L391.9 216.1 L395.0 216.4 L396.6 219.3 L396.1 221.5 L391.2 219.4 L388.2 227.1 L385.7 230.8 L382.0 230.2 L380.2 237.2 L378.5 242.9 L373.8 246.1 L371.0 247.2 L367.2 248.3 L364.2 244.9 L361.1 243.6 L359.5 241.6 L357.8 238.4Z" fill="#244999"/>
<path d="M381.3 217.6 L411.6 211.6 L415.3 225.2 L420.8 224.1 L420.2 229.0 L417.0 230.6 L414.9 229.4 L413.8 227.9 L411.1 225.6 L410.0 222.5 L410.1 219.0 L411.1 215.4 L410.3 213.9 L409.8 215.5 L407.7 218.4 L407.7 221.8 L409.5 227.1 L410.7 230.3 L412.1 232.2 L409.1 230.6 L405.4 229.7 L402.6 229.1 L402.5 226.1 L403.4 223.9 L402.4 222.5 L398.9 221.3 L396.6 219.3 L395.0 216.4 L391.9 216.1 L390.4 217.1 L387.1 217.9 L384.9 220.0 L382.3 223.3Z" fill="#244999"/>
<path d="M411.6 211.6 L412.5 210.2 L414.5 210.1 L413.8 212.3 L414.8 214.6 L416.7 217.6 L419.7 220.4 L420.8 224.1 L415.3 225.2Z" fill="#d22532"/>
<path d="M413.8 212.3 L415.6 214.4 L418.6 216.0 L420.6 218.7 L422.6 214.6 L424.7 208.9 L424.9 204.3 L424.6 200.4 L422.3 200.4 L423.6 197.8 L423.8 194.3 L416.5 191.9 L414.3 197.1 L414.1 200.0 L415.5 201.3 L419.0 204.6 L416.6 208.5 L414.5 210.1Z" fill="#d22532"/>
<path d="M374.1 190.1 L368.6 194.3 L371.0 209.0 L372.6 219.1 L381.3 217.6 L411.6 211.6 L412.5 210.2 L414.5 210.1 L416.6 208.5 L419.0 204.6 L415.5 201.3 L414.1 200.0 L414.3 197.1 L416.5 191.9 L412.6 188.3 L409.8 186.1 L374.6 193.0Z" fill="#d22532"/>
<path d="M417.8 150.1 L407.4 152.7 L403.4 155.3 L400.5 160.4 L397.1 165.1 L398.7 167.0 L399.5 170.8 L395.3 174.3 L389.2 176.3 L381.9 176.3 L377.8 178.3 L378.4 180.6 L379.7 182.0 L378.6 184.7 L374.1 190.1 L374.6 193.0 L409.8 186.1 L412.6 188.3 L416.5 191.9 L423.8 194.3 L423.6 197.8 L424.5 198.9 L429.6 196.9 L435.5 193.2 L439.9 189.5 L436.3 189.8 L433.9 192.1 L429.7 193.8 L425.7 195.2 L425.8 193.8 L424.9 192.9 L425.9 190.4 L424.3 182.2 L424.3 174.2 L422.2 165.1 L420.0 161.0 L419.1 155.6Z" fill="#d22532"/>
<path d="M424.3 182.2 L437.8 179.2 L439.5 185.8 L439.3 186.8 L435.1 188.4 L429.8 191.1 L425.8 193.8 L424.9 192.9 L425.9 190.4Z" fill="#d22532"/>
<path d="M437.8 179.2 L441.1 178.3 L442.9 180.9 L444.6 183.3 L443.2 183.7 L442.0 182.3 L442.0 185.5 L439.3 186.8 L439.5 185.8Z" fill="#244999"/>
<path d="M424.3 182.2 L424.3 174.2 L430.7 172.9 L439.8 170.9 L440.3 169.8 L443.0 168.0 L445.4 169.9 L443.7 171.5 L443.2 174.3 L445.9 175.0 L447.8 177.3 L449.6 179.1 L452.0 177.3 L450.2 175.3 L452.0 175.6 L453.0 177.6 L453.3 180.4 L448.4 181.7 L447.7 180.0 L446.2 182.3 L444.6 183.3 L442.9 180.9 L441.1 178.3 L437.8 179.2Z" fill="#d22532"/>
<path d="M417.8 150.1 L431.7 146.6 L432.4 152.2 L430.1 157.4 L429.9 161.4 L429.6 166.6 L429.6 171.8 L430.7 172.9 L424.3 174.2 L422.2 165.1 L420.0 161.0 L419.1 155.6Z" fill="#d22532"/>
<path d="M431.7 146.6 L431.9 144.4 L434.0 142.6 L437.5 153.1 L440.3 162.7 L443.4 165.7 L443.0 168.0 L440.3 169.8 L439.8 170.9 L430.7 172.9 L429.6 171.8 L429.6 166.6 L429.9 161.4 L430.1 157.4 L432.4 152.2Z" fill="#d22532"/>
<path d="M443.4 165.7 L443.7 162.3 L445.6 158.9 L448.2 156.5 L451.4 153.3 L453.3 149.8 L453.7 146.9 L456.6 148.3 L459.8 145.6 L463.7 142.1 L465.8 138.5 L462.6 136.1 L461.0 134.8 L460.1 131.7 L457.0 130.3 L452.8 117.0 L448.2 115.1 L444.4 118.1 L442.6 116.0 L441.2 116.0 L437.9 125.6 L437.7 131.9 L437.8 136.5 L435.9 142.7 L434.0 142.6 L437.5 153.1 L440.3 162.7Z" fill="#d22532"/>
<path d="M368.6 194.3 L365.0 196.3 L359.9 201.1 L355.2 202.5 L351.4 202.3 L349.2 201.5 L345.4 200.5 L334.5 202.2 L337.7 230.9 L340.4 230.6 L343.3 233.6 L347.8 234.7 L352.0 234.5 L354.9 233.2 L357.4 236.0 L360.5 233.5 L360.9 230.1 L363.6 228.0 L364.8 225.4 L367.6 223.5 L369.9 219.7 L370.4 215.5 L370.4 211.8 L371.0 209.0Z" fill="#d22532"/>
<path d="M318.0 203.3 L315.1 205.1 L312.4 204.5 L314.7 230.5 L314.4 234.5 L315.3 240.0 L312.6 243.0 L311.7 248.1 L315.9 246.1 L319.9 247.4 L324.9 245.5 L328.7 244.3 L330.9 241.0 L333.3 235.7 L337.8 233.7 L337.7 230.9 L334.5 202.2 L334.4 201.6Z" fill="#d22532"/>
<path d="M312.4 204.5 L311.4 202.4 L309.7 199.2 L309.4 196.0 L286.4 197.5 L290.3 201.7 L290.8 205.1 L288.3 208.5 L283.9 210.4 L283.8 216.6 L281.5 221.4 L280.9 226.2 L283.7 230.5 L287.6 233.6 L289.1 237.4 L293.0 238.1 L292.7 241.1 L291.5 245.1 L295.8 248.2 L299.6 254.6 L303.1 257.9 L307.6 256.5 L308.8 255.0 L311.6 251.5 L311.7 248.1 L312.6 243.0 L315.3 240.0 L314.4 234.5 L314.7 230.5Z" fill="#d22532"/>
<path d="M309.4 196.0 L308.5 189.9 L309.0 182.6 L310.0 175.8 L311.1 170.2 L312.5 164.8 L310.1 168.6 L307.7 172.2 L305.9 173.4 L306.4 170.1 L308.4 167.1 L306.3 164.5 L305.9 160.2 L303.8 158.5 L298.4 157.7 L296.0 156.7 L288.1 155.0 L285.7 152.6 L283.1 151.5 L282.5 148.6 L279.6 149.6 L273.6 151.8 L271.4 152.3 L271.7 158.8 L268.6 160.8 L267.3 164.1 L268.5 167.4 L268.3 173.4 L272.3 175.5 L276.3 179.2 L280.5 182.9 L281.3 186.7 L282.5 192.2 L284.3 195.4 L286.4 197.5Z" fill="#d22532"/>
<path d="M345.4 200.5 L347.0 197.3 L347.4 193.9 L351.0 190.6 L351.5 185.5 L349.9 180.1 L348.1 175.9 L345.5 174.4 L342.6 176.7 L339.0 179.9 L339.0 176.6 L342.0 172.3 L342.1 166.7 L340.5 163.6 L335.8 160.3 L329.7 157.4 L327.5 159.6 L328.2 162.3 L325.3 163.8 L324.5 167.2 L323.8 165.0 L320.7 168.2 L319.4 171.1 L318.1 177.3 L318.5 182.3 L321.3 189.2 L322.3 195.8 L320.0 201.0 L318.0 203.3 L334.4 201.6 L334.5 202.2Z" fill="#d22532"/>
<path d="M308.4 167.1 L311.1 161.9 L312.4 159.6 L315.2 160.4 L316.1 158.1 L320.6 156.5 L324.2 154.7 L329.7 156.4 L332.8 154.9 L336.2 154.4 L333.9 151.7 L331.7 149.2 L327.5 149.9 L326.4 146.8 L322.0 148.3 L317.5 149.1 L314.0 151.7 L308.6 151.4 L305.6 147.7 L301.8 147.5 L300.4 149.3 L301.9 144.5 L305.0 141.5 L300.3 142.7 L296.1 147.2 L290.9 149.4 L285.7 152.6 L288.1 155.0 L296.0 156.7 L298.4 157.7 L303.8 158.5 L305.9 160.2 L306.3 164.5Z" fill="#d22532"/>
</g>
<g fill="#d22532">
<path d="M30.7 328.0 L36.7 322.9 L44.3 320.0 L52.9 321.5 L63.9 322.6 L70.8 359.6 L75.0 359.9 L80.1 363.0 L82.7 359.6 L88.7 363.0 L95.5 368.1 L98.6 370.6 L97.2 374.1 L92.9 374.1 L87.0 369.8 L81.8 365.5 L77.6 363.0 L73.3 360.8 L69.9 360.4 L63.1 358.7 L58.0 359.6 L55.4 363.0 L52.9 361.3 L51.2 364.7 L47.7 368.1 L44.3 371.5 L40.1 375.8 L34.1 379.2 L27.3 381.7 L20.5 383.8 L13.6 385.5 L18.8 382.6 L25.6 380.0 L32.4 376.6 L37.5 372.3 L40.9 367.2 L36.7 365.5 L32.4 364.7 L31.5 360.4 L27.3 359.2 L25.6 355.3 L29.8 352.7 L33.2 350.2 L31.5 346.8 L35.0 344.2 L36.7 340.8 L32.4 340.0 L27.3 339.1 L26.4 337.4 L31.5 335.7 L35.0 334.0 L32.4 332.3Z"/>
<path d="M17.1 344.6 L21.3 346.4 L20.8 347.6 L16.7 345.6Z"/>
<path d="M45.7 372.3 L48.6 369.5 L50.3 370.6 L47.4 373.5Z"/>
<path d="M22.2 359.2 L24.7 359.2 L24.7 360.6 L22.2 360.6Z"/>
</g><g fill="#244999">
<path d="M110.5 350.2 L113.9 349.7 L115.3 351.4 L113.4 353.1 L110.8 352.4Z"/>
<path d="M105.7 352.7 L107.8 352.4 L107.8 353.8 L105.7 354.1Z"/>
<path d="M126.5 356.7 L129.2 356.2 L131.3 358.7 L129.6 359.9 L127.0 358.7Z"/>
<path d="M136.4 361.3 L141.2 361.3 L141.5 362.6 L136.7 362.6Z"/>
<path d="M142.4 363.5 L145.8 363.0 L149.2 365.5 L148.0 367.2 L144.9 366.4 L142.9 365.0Z"/>
<path d="M140.2 363.8 L141.9 363.8 L141.9 365.0 L140.2 365.0Z"/>
<path d="M150.0 372.9 L154.3 371.5 L158.6 374.9 L161.5 379.2 L157.7 382.6 L152.6 384.6 L150.9 380.4 L149.2 376.6Z"/>
</g>
<rect x="438.7" y="209.6" width="28.4" height="12.1" fill="#d22532"/>
<rect x="438.7" y="224.6" width="28.4" height="12.1" fill="#244999"/>
<rect x="438.7" y="239.3" width="28.4" height="12.1" fill="#d22532"/>
<rect x="438.7" y="254.0" width="28.4" height="12.1" fill="#d22532"/>
<rect x="438.7" y="268.8" width="28.4" height="12.1" fill="#d22532"/>
<rect x="438.7" y="283.5" width="28.4" height="12.1" fill="#244999"/>
<rect x="438.7" y="298.2" width="28.4" height="12.1" fill="#244999"/>
<g font-family="Liberation Sans, Arial, sans-serif" font-weight="bold" font-size="6.3" fill="#fff" text-anchor="middle">
<text x="62.2" y="121.0">WA</text>
<text x="62.2" y="127.3">9</text>
<text x="50.2" y="157.9">OR</text>
<text x="50.2" y="164.2">6</text>
<text x="94.0" y="164.2">ID</text>
<text x="94.0" y="170.5">4</text>
<text x="139.9" y="137.8">MT</text>
<text x="139.9" y="144.1">4</text>
<text x="208.9" y="141.6">ND</text>
<text x="208.9" y="147.9">3</text>
<text x="209.4" y="174.9">SD</text>
<text x="209.4" y="181.2">4</text>
<text x="150.0" y="185.0">WY</text>
<text x="150.0" y="191.3">3</text>
<text x="211.4" y="208.8">NE</text>
<text x="211.4" y="215.1">5</text>
<text x="69.0" y="213.1">NV</text>
<text x="69.0" y="219.4">3</text>
<text x="110.3" y="222.1">UT</text>
<text x="110.3" y="228.4">4</text>
<text x="161.7" y="230.9">CO</text>
<text x="161.7" y="237.2">7</text>
<text x="221.9" y="243.4">KS</text>
<text x="221.9" y="249.7">7</text>
<text x="34.4" y="230.1">CA</text>
<text x="34.4" y="236.4">45</text>
<text x="101.0" y="276.3">AZ</text>
<text x="101.0" y="282.6">6</text>
<text x="151.4" y="281.7">NM</text>
<text x="151.4" y="288.0">4</text>
<text x="228.7" y="276.0">OK</text>
<text x="228.7" y="282.3">8</text>
<text x="211.4" y="318.2">TX</text>
<text x="211.4" y="324.5">26</text>
<text x="253.1" y="153.6">MN</text>
<text x="253.1" y="159.9">10</text>
<text x="289.7" y="173.7">WI</text>
<text x="289.7" y="180.0">11</text>
<text x="329.0" y="180.0">MI</text>
<text x="329.0" y="186.3">21</text>
<text x="262.6" y="202.5">IA</text>
<text x="262.6" y="208.8">8</text>
<text x="299.7" y="221.8">IL</text>
<text x="299.7" y="228.1">26</text>
<text x="324.0" y="221.3">IN</text>
<text x="324.0" y="227.6">13</text>
<text x="352.1" y="216.3">OH</text>
<text x="352.1" y="222.6">25</text>
<text x="392.5" y="201.8">PA</text>
<text x="392.5" y="208.1">27</text>
<text x="408.5" y="173.7">NY</text>
<text x="408.5" y="180.0">41</text>
<text x="423.1" y="156.1">VT</text>
<text x="424.3" y="162.4">3</text>
<text x="434.4" y="163.2">NH</text>
<text x="434.4" y="169.5">4</text>
<text x="445.6" y="138.1">ME</text>
<text x="445.6" y="144.4">4</text>
<text x="371.7" y="234.6">WV</text>
<text x="371.7" y="240.9">6</text>
<text x="393.5" y="238.1">VA</text>
<text x="393.5" y="244.4">12</text>
<text x="341.1" y="248.2">KY</text>
<text x="341.1" y="254.5">9</text>
<text x="270.1" y="241.9">MO</text>
<text x="270.1" y="248.2">12</text>
<text x="328.3" y="269.0">TN</text>
<text x="328.3" y="275.3">10</text>
<text x="395.5" y="264.0">NC</text>
<text x="395.5" y="270.3">13</text>
<text x="274.6" y="283.5">AR</text>
<text x="274.6" y="289.8">6</text>
<text x="381.7" y="284.8">SC</text>
<text x="381.7" y="291.1">8</text>
<text x="301.5" y="303.2">MS</text>
<text x="301.5" y="309.5">7</text>
<text x="327.3" y="300.4">AL</text>
<text x="327.3" y="306.7">9</text>
<text x="357.4" y="298.7">GA</text>
<text x="357.4" y="305.0">12</text>
<text x="275.1" y="323.0">LA</text>
<text x="275.1" y="329.3">10</text>
<text x="385.0" y="350.1">FL</text>
<text x="385.0" y="356.4">17</text>
<text x="49.4" y="345.1">AK</text>
<text x="49.4" y="351.4">3</text>
<text x="142.9" y="377.7" fill="#222">HI</text>
<text x="142.9" y="384.0" fill="#222">4</text>
<text x="441.3" y="217.9" text-anchor="start">MA</text>
<text x="464.6" y="217.9" text-anchor="end">14</text>
<text x="441.3" y="232.9" text-anchor="start">RI</text>
<text x="464.6" y="232.9" text-anchor="end">4</text>
<text x="441.3" y="247.6" text-anchor="start">CT</text>
<text x="464.6" y="247.6" text-anchor="end">8</text>
<text x="441.3" y="262.3" text-anchor="start">NJ</text>
<text x="464.6" y="262.3" text-anchor="end">17</text>
<text x="441.3" y="277.1" text-anchor="start">DE</text>
<text x="464.6" y="277.1" text-anchor="end">3</text>
<text x="441.3" y="291.8" text-anchor="start">MD</text>
<text x="464.6" y="291.8" text-anchor="end">10</text>
<text x="441.3" y="306.5" text-anchor="start">DC</text>
<text x="464.6" y="306.5" text-anchor="end">3</text>
</g>
<text x="369.2" y="140.2" font-family="Liberation Sans, Arial, sans-serif" font-weight="bold" font-size="11" fill="#222" text-anchor="middle">1980 Actual</text>
<g font-family="Liberation Sans, Arial, sans-serif" font-weight="bold"><text x="389.2" y="318.1" font-size="19.6" fill="#1c3f76" textLength="26.6" lengthAdjust="spacingAndGlyphs" stroke="#1c3f76" stroke-width="1.1" stroke-linejoin="round">270</text><text x="397.0" y="328.7" font-size="10.4" font-weight="normal" fill="#a0354f" stroke="#a0354f" stroke-width="0.3" textLength="19.2" lengthAdjust="spacingAndGlyphs">WIN</text><text transform="translate(395.3,328.3) rotate(-90)" font-size="4.4" fill="#858585" textLength="6.2" lengthAdjust="spacingAndGlyphs">TO</text><rect x="389.2" y="321.6" width="6.8" height="0.7" fill="#999"/><rect x="389.2" y="328.0" width="6.8" height="0.7" fill="#999"/></g>
</g>
<g transform="translate(0.25 498.50) scale(0.9880)">
<g stroke="#fff" stroke-width="0.9" stroke-linejoin="round">
<path d="M50.1 99.9 L49.9 104.4 L50.1 110.1 L48.5 114.1 L46.9 117.7 L44.1 119.3 L43.3 118.1 L45.3 115.5 L46.7 111.7 L47.5 106.5 L46.6 105.5 L44.9 109.7 L40.1 107.3 L36.1 104.8 L32.8 102.8 L32.0 106.1 L32.4 114.1 L32.0 120.5 L32.8 124.5 L32.2 125.7 L36.3 127.2 L39.0 128.9 L40.2 131.8 L40.0 135.1 L43.0 137.2 L47.2 136.6 L51.4 138.7 L56.2 138.7 L60.9 138.9 L65.6 139.0 L68.7 139.4 L69.0 138.9 L84.3 142.5 L84.5 137.7 L90.7 110.3 L69.6 105.2Z" fill="#d22532"/>
<path d="M32.2 125.7 L31.5 130.9 L28.7 139.3 L25.8 146.5 L22.7 153.6 L19.5 158.4 L16.7 160.6 L16.5 165.6 L16.3 170.2 L50.3 179.8 L73.8 185.5 L78.2 165.7 L79.8 161.8 L78.3 159.3 L81.6 155.5 L83.4 152.5 L86.3 148.6 L85.1 145.0 L84.3 142.5 L69.0 138.9 L68.7 139.4 L65.6 139.0 L60.9 138.9 L56.2 138.7 L51.4 138.7 L47.2 136.6 L43.0 137.2 L40.0 135.1 L40.2 131.8 L39.0 128.9 L36.3 127.2Z" fill="#d22532"/>
<path d="M16.3 170.2 L15.5 175.7 L13.5 180.9 L9.7 186.1 L10.4 189.3 L11.6 195.5 L10.4 203.8 L12.7 209.7 L14.0 215.9 L17.8 219.1 L17.0 222.5 L16.7 226.5 L19.1 229.5 L20.7 231.7 L18.8 233.5 L18.4 236.8 L20.9 242.7 L23.5 248.0 L25.7 252.0 L24.1 258.0 L25.3 260.0 L31.9 262.3 L35.1 265.9 L41.0 268.7 L41.4 272.0 L44.8 274.0 L48.4 278.8 L50.5 283.9 L53.8 288.4 L72.0 290.5 L74.6 287.8 L73.6 283.1 L75.4 281.2 L77.5 276.2 L80.4 274.5 L79.0 272.3 L77.6 268.0 L77.7 265.8 L42.0 212.1 L50.3 179.8Z" fill="#d22532"/>
<path d="M50.3 179.8 L73.8 185.5 L97.6 190.4 L87.1 245.0 L85.4 253.7 L82.2 253.9 L79.0 253.8 L78.8 259.2 L77.7 265.8 L42.0 212.1Z" fill="#d22532"/>
<path d="M97.7 111.9 L90.7 110.3 L84.5 137.7 L84.3 142.5 L85.1 145.0 L86.3 148.6 L83.4 152.5 L81.6 155.5 L78.3 159.3 L79.8 161.8 L78.2 165.7 L73.8 185.5 L97.6 190.4 L121.5 194.6 L125.8 167.6 L123.6 164.4 L122.5 166.2 L116.3 165.2 L112.2 166.1 L110.6 163.6 L108.2 159.2 L106.0 150.5 L101.1 151.1 L103.4 147.6 L103.5 143.2 L105.0 139.6 L103.1 139.2 L101.1 135.4 L98.9 131.6 L96.8 128.7 L95.4 122.5Z" fill="#d22532"/>
<path d="M184.5 124.8 L155.7 121.7 L126.8 117.4 L97.7 111.9 L95.4 122.5 L96.8 128.7 L98.9 131.6 L101.1 135.4 L103.1 139.2 L105.0 139.6 L103.5 143.2 L103.4 147.6 L101.1 151.1 L106.0 150.5 L108.2 159.2 L110.6 163.6 L112.2 166.1 L116.3 165.2 L122.5 166.2 L123.6 164.4 L125.8 167.6 L126.7 161.9 L154.1 165.7 L180.8 168.5 L181.6 158.1Z" fill="#d22532"/>
<path d="M125.8 167.6 L126.7 161.9 L154.1 165.7 L180.8 168.5 L178.9 190.5 L177.0 212.6 L136.1 208.0 L119.8 205.6 L121.5 194.6Z" fill="#d22532"/>
<path d="M97.6 190.4 L121.5 194.6 L119.8 205.6 L136.1 208.0 L130.0 252.1 L87.1 245.0Z" fill="#d22532"/>
<path d="M136.1 208.0 L177.0 212.6 L193.5 213.8 L192.8 224.9 L190.6 258.2 L182.4 257.6 L130.0 252.1Z" fill="#d22532"/>
<path d="M87.1 245.0 L130.0 252.1 L121.4 314.4 L102.6 311.6 L70.7 292.8 L72.0 290.5 L74.6 287.8 L73.6 283.1 L75.4 281.2 L77.5 276.2 L80.4 274.5 L79.0 272.3 L77.6 268.0 L77.7 265.8 L78.8 259.2 L79.0 253.8 L82.2 253.9 L85.4 253.7Z" fill="#d22532"/>
<path d="M130.0 252.1 L182.4 257.6 L182.0 263.2 L177.7 312.9 L144.8 309.8 L145.4 312.4 L129.8 310.5 L129.2 315.4 L121.4 314.4Z" fill="#d22532"/>
<path d="M234.3 127.2 L210.4 126.5 L184.5 124.8 L181.6 158.1 L239.0 160.7 L238.7 156.8 L237.4 150.5 L236.9 143.6 L235.5 138.7 L234.8 132.7Z" fill="#d22532"/>
<path d="M239.0 160.7 L181.6 158.1 L180.8 168.5 L178.9 190.5 L223.3 192.9 L228.0 195.3 L233.7 194.8 L237.7 197.6 L239.7 198.9 L238.9 193.2 L238.5 187.7 L239.7 187.7 L238.5 187.7 L239.7 187.7 L239.8 167.8 L236.8 164.2Z" fill="#d22532"/>
<path d="M239.7 198.9 L237.7 197.6 L233.7 194.8 L228.0 195.3 L223.3 192.9 L178.9 190.5 L177.0 212.6 L193.5 213.8 L192.8 224.9 L249.1 226.5 L246.6 223.2 L245.2 220.1 L244.3 215.4 L243.9 212.1 L242.5 207.6 L240.9 202.1Z" fill="#d22532"/>
<path d="M249.1 226.5 L192.8 224.9 L190.6 258.2 L255.3 259.8 L255.1 236.4 L252.6 233.7 L250.8 228.1Z" fill="#d22532"/>
<path d="M182.4 257.6 L190.6 258.2 L255.3 259.8 L255.4 265.3 L257.3 277.5 L257.1 297.1 L253.3 296.5 L249.7 294.3 L245.1 294.6 L239.7 296.0 L235.1 293.7 L232.4 295.3 L227.9 293.6 L224.3 291.9 L219.8 291.2 L214.4 289.4 L210.9 288.1 L207.3 286.2 L208.2 264.7 L182.0 263.2Z" fill="#d22532"/>
<path d="M182.0 263.2 L208.2 264.7 L207.3 286.2 L210.9 288.1 L214.4 289.4 L219.8 291.2 L224.3 291.9 L227.9 293.6 L232.4 295.3 L235.1 293.7 L239.7 296.0 L245.1 294.6 L249.7 294.3 L253.3 296.5 L257.1 297.1 L261.2 298.0 L261.3 303.9 L261.5 315.2 L262.9 316.8 L266.3 324.5 L265.1 330.6 L265.2 336.1 L263.9 340.5 L259.6 341.7 L255.3 344.5 L251.0 348.4 L244.3 352.3 L243.0 352.2 L237.3 355.6 L233.8 359.4 L230.8 363.4 L228.3 367.0 L226.9 371.3 L227.2 377.0 L229.2 382.6 L227.3 382.8 L222.3 380.6 L217.4 378.3 L212.0 375.4 L209.7 369.8 L209.0 364.3 L203.4 356.9 L199.8 350.7 L195.8 343.4 L191.7 338.5 L186.0 337.8 L180.3 338.0 L177.5 342.8 L174.9 346.1 L173.0 345.8 L168.4 342.4 L164.8 340.1 L161.9 337.1 L160.7 331.5 L158.4 326.3 L153.2 321.0 L148.0 316.1 L145.4 312.4 L144.8 309.8 L177.7 312.9Z" fill="#d22532"/>
<path d="M291.6 136.4 L287.8 135.7 L282.2 136.0 L276.7 136.6 L272.9 134.3 L269.1 132.8 L263.2 131.1 L259.5 131.4 L253.6 130.2 L251.7 124.0 L249.5 123.1 L249.5 127.2 L234.3 127.2 L234.8 132.7 L235.5 138.7 L236.9 143.6 L237.4 150.5 L238.7 156.8 L239.0 160.7 L236.8 164.2 L239.8 167.8 L239.7 187.7 L281.3 186.7 L280.5 182.9 L276.3 179.2 L272.3 175.5 L268.3 173.4 L268.5 167.4 L267.3 164.1 L268.6 160.8 L271.7 158.8 L271.4 152.3 L272.8 151.2 L277.2 147.2 L281.5 142.6 L285.8 139.3Z" fill="#244999"/>
<path d="M238.5 187.7 L239.7 187.7 L281.3 186.7 L282.5 192.2 L284.3 195.4 L286.4 197.5 L290.3 201.7 L290.8 205.1 L288.3 208.5 L283.9 210.4 L283.8 216.6 L281.5 221.4 L278.7 218.9 L245.2 220.1 L244.3 215.4 L243.9 212.1 L242.5 207.6 L240.9 202.1 L239.7 198.9 L238.9 193.2Z" fill="#d22532"/>
<path d="M245.2 220.1 L278.7 218.9 L281.5 221.4 L280.9 226.2 L283.7 230.5 L287.6 233.6 L289.1 237.4 L293.0 238.1 L292.7 241.1 L291.5 245.1 L295.8 248.2 L299.6 254.6 L303.1 257.9 L302.8 261.6 L300.3 263.5 L299.1 266.3 L298.9 269.1 L293.0 269.5 L294.6 263.8 L255.4 265.3 L255.3 259.8 L255.1 236.4 L252.6 233.7 L250.8 228.1 L249.1 226.5 L246.6 223.2Z" fill="#d22532"/>
<path d="M255.4 265.3 L294.6 263.8 L293.0 269.5 L298.9 269.1 L297.0 274.3 L295.9 278.8 L294.3 280.6 L293.9 282.8 L292.1 286.3 L289.4 290.8 L288.3 295.3 L287.6 298.7 L287.6 303.2 L261.3 303.9 L261.2 298.0 L257.1 297.1 L257.3 277.5Z" fill="#d22532"/>
<path d="M261.3 303.9 L287.6 303.2 L288.9 307.5 L290.5 310.8 L288.4 314.2 L286.3 319.3 L284.7 325.5 L302.3 324.5 L301.4 328.4 L303.5 331.6 L304.8 333.4 L301.2 333.4 L302.8 334.9 L306.6 334.7 L307.2 336.8 L304.9 338.7 L308.5 342.3 L310.2 345.5 L307.4 346.8 L304.9 345.3 L301.4 343.9 L298.2 345.7 L292.4 346.3 L288.4 344.0 L283.5 342.1 L280.6 341.1 L275.8 341.3 L270.0 339.6 L263.9 340.5 L265.2 336.1 L265.1 330.6 L266.3 324.5 L262.9 316.8 L261.5 315.2Z" fill="#d22532"/>
<path d="M294.3 280.6 L313.0 279.2 L314.0 280.3 L313.3 313.7 L315.3 330.5 L310.6 330.5 L306.8 331.7 L304.8 333.4 L303.5 331.6 L301.4 328.4 L302.3 324.5 L284.7 325.5 L286.3 319.3 L288.4 314.2 L290.5 310.8 L288.9 307.5 L287.6 303.2 L287.6 298.7 L288.3 295.3 L289.4 290.8 L292.1 286.3 L293.9 282.8Z" fill="#d22532"/>
<path d="M313.0 279.2 L336.1 277.0 L342.6 300.1 L344.9 306.1 L345.1 313.9 L346.6 320.4 L322.3 322.9 L322.4 324.6 L324.5 326.6 L323.9 330.8 L320.6 330.8 L319.6 327.4 L318.4 327.1 L318.2 330.5 L315.3 330.5 L313.3 313.7 L314.0 280.3Z" fill="#d22532"/>
<path d="M323.9 330.8 L330.1 329.6 L335.1 329.6 L342.1 332.1 L345.1 334.6 L349.1 334.1 L353.1 331.6 L357.1 330.6 L362.2 334.1 L367.2 337.1 L370.2 342.1 L371.2 348.1 L371.7 352.1 L375.2 357.1 L379.2 361.2 L380.2 363.2 L384.2 367.2 L385.2 370.2 L389.2 372.2 L391.7 376.2 L393.8 379.2 L399.6 376.7 L400.8 370.2 L400.8 363.2 L399.3 357.1 L395.3 350.1 L391.7 342.1 L386.2 334.1 L382.2 327.1 L380.2 319.1 L374.9 319.1 L375.1 323.8 L373.4 321.7 L348.3 323.5 L346.6 320.4 L322.3 322.9 L322.4 324.6 L324.5 326.6Z" fill="#d22532"/>
<path d="M336.1 277.0 L347.5 275.7 L358.3 274.3 L356.6 277.9 L361.4 280.0 L364.3 284.6 L368.5 288.0 L371.1 289.8 L375.9 294.1 L377.5 298.4 L380.4 302.4 L383.2 303.9 L381.5 309.0 L380.3 313.6 L380.2 319.1 L374.9 319.1 L375.1 323.8 L373.4 321.7 L348.3 323.5 L346.6 320.4 L345.1 313.9 L344.9 306.1 L342.6 300.1Z" fill="#d22532"/>
<path d="M358.3 274.3 L364.7 271.1 L376.3 269.9 L376.5 271.0 L377.4 270.3 L379.2 273.2 L388.9 271.8 L400.8 280.2 L398.1 284.6 L395.7 289.4 L391.7 294.2 L387.7 299.0 L383.2 303.9 L380.4 302.4 L377.5 298.4 L375.9 294.1 L371.1 289.8 L368.5 288.0 L364.3 284.6 L361.4 280.0 L356.6 277.9Z" fill="#d22532"/>
<path d="M368.3 255.0 L418.4 246.3 L419.5 248.8 L420.6 250.6 L414.0 254.6 L421.2 252.4 L421.8 254.9 L419.8 259.7 L418.9 260.6 L414.5 261.2 L418.2 262.1 L418.6 264.5 L416.6 267.3 L413.3 269.3 L410.1 271.7 L407.7 274.9 L406.1 278.2 L400.8 280.2 L388.9 271.8 L379.2 273.2 L377.4 270.3 L376.5 271.0 L376.3 269.9 L364.7 271.1 L358.3 274.3 L347.5 275.7 L349.8 270.9 L354.0 268.5 L358.2 263.6 L361.2 262.7 L365.8 260.9 L368.5 257.8Z" fill="#d22532"/>
<path d="M350.9 257.3 L326.3 259.6 L312.8 260.5 L312.9 262.5 L300.3 263.5 L299.1 266.3 L298.9 269.1 L297.0 274.3 L295.9 278.8 L294.3 280.6 L313.0 279.2 L336.1 277.0 L347.5 275.7 L349.8 270.9 L354.0 268.5 L358.2 263.6 L361.2 262.7 L365.8 260.9 L368.5 257.8 L368.3 255.0Z" fill="#d22532"/>
<path d="M357.4 236.0 L354.9 233.2 L352.0 234.5 L347.8 234.7 L343.3 233.6 L340.4 230.6 L337.7 230.9 L337.8 233.7 L333.3 235.7 L330.9 241.0 L328.7 244.3 L324.9 245.5 L319.9 247.4 L315.9 246.1 L311.7 248.1 L311.6 251.5 L308.8 255.0 L307.6 256.5 L303.1 257.9 L302.8 261.6 L300.3 263.5 L312.9 262.5 L312.8 260.5 L326.3 259.6 L350.9 257.3 L355.6 253.9 L358.7 251.2 L361.7 248.0 L364.2 244.9 L361.1 243.6 L359.5 241.6 L357.8 238.4Z" fill="#d22532"/>
<path d="M368.3 255.0 L418.4 246.3 L416.4 242.4 L413.4 242.8 L413.1 239.4 L412.3 235.6 L412.1 232.2 L409.1 230.6 L405.4 229.7 L402.6 229.1 L402.5 226.1 L403.4 223.9 L402.4 222.5 L398.9 221.3 L396.6 219.3 L396.1 221.5 L391.2 219.4 L388.2 227.1 L385.7 230.8 L382.0 230.2 L380.2 237.2 L378.5 242.9 L373.8 246.1 L371.0 247.2 L367.2 248.3 L364.2 244.9 L361.7 248.0 L358.7 251.2 L355.6 253.9 L350.9 257.3Z" fill="#d22532"/>
<path d="M417.0 230.6 L416.1 234.8 L415.7 238.9 L416.4 240.2 L417.5 237.3 L418.4 233.2 L420.2 229.0Z" fill="#d22532"/>
<path d="M357.4 236.0 L360.5 233.5 L360.9 230.1 L363.6 228.0 L364.8 225.4 L367.6 223.5 L369.9 219.7 L370.4 215.5 L370.4 211.8 L371.0 209.0 L372.6 219.1 L381.3 217.6 L382.3 223.3 L384.9 220.0 L387.1 217.9 L390.4 217.1 L391.9 216.1 L395.0 216.4 L396.6 219.3 L396.1 221.5 L391.2 219.4 L388.2 227.1 L385.7 230.8 L382.0 230.2 L380.2 237.2 L378.5 242.9 L373.8 246.1 L371.0 247.2 L367.2 248.3 L364.2 244.9 L361.1 243.6 L359.5 241.6 L357.8 238.4Z" fill="#d22532"/>
<path d="M381.3 217.6 L411.6 211.6 L415.3 225.2 L420.8 224.1 L420.2 229.0 L417.0 230.6 L414.9 229.4 L413.8 227.9 L411.1 225.6 L410.0 222.5 L410.1 219.0 L411.1 215.4 L410.3 213.9 L409.8 215.5 L407.7 218.4 L407.7 221.8 L409.5 227.1 L410.7 230.3 L412.1 232.2 L409.1 230.6 L405.4 229.7 L402.6 229.1 L402.5 226.1 L403.4 223.9 L402.4 222.5 L398.9 221.3 L396.6 219.3 L395.0 216.4 L391.9 216.1 L390.4 217.1 L387.1 217.9 L384.9 220.0 L382.3 223.3Z" fill="#d22532"/>
<path d="M411.6 211.6 L412.5 210.2 L414.5 210.1 L413.8 212.3 L414.8 214.6 L416.7 217.6 L419.7 220.4 L420.8 224.1 L415.3 225.2Z" fill="#d22532"/>
<path d="M413.8 212.3 L415.6 214.4 L418.6 216.0 L420.6 218.7 L422.6 214.6 L424.7 208.9 L424.9 204.3 L424.6 200.4 L422.3 200.4 L423.6 197.8 L423.8 194.3 L416.5 191.9 L414.3 197.1 L414.1 200.0 L415.5 201.3 L419.0 204.6 L416.6 208.5 L414.5 210.1Z" fill="#d22532"/>
<path d="M374.1 190.1 L368.6 194.3 L371.0 209.0 L372.6 219.1 L381.3 217.6 L411.6 211.6 L412.5 210.2 L414.5 210.1 L416.6 208.5 L419.0 204.6 L415.5 201.3 L414.1 200.0 L414.3 197.1 L416.5 191.9 L412.6 188.3 L409.8 186.1 L374.6 193.0Z" fill="#d22532"/>
<path d="M417.8 150.1 L407.4 152.7 L403.4 155.3 L400.5 160.4 L397.1 165.1 L398.7 167.0 L399.5 170.8 L395.3 174.3 L389.2 176.3 L381.9 176.3 L377.8 178.3 L378.4 180.6 L379.7 182.0 L378.6 184.7 L374.1 190.1 L374.6 193.0 L409.8 186.1 L412.6 188.3 L416.5 191.9 L423.8 194.3 L423.6 197.8 L424.5 198.9 L429.6 196.9 L435.5 193.2 L439.9 189.5 L436.3 189.8 L433.9 192.1 L429.7 193.8 L425.7 195.2 L425.8 193.8 L424.9 192.9 L425.9 190.4 L424.3 182.2 L424.3 174.2 L422.2 165.1 L420.0 161.0 L419.1 155.6Z" fill="#d22532"/>
<path d="M424.3 182.2 L437.8 179.2 L439.5 185.8 L439.3 186.8 L435.1 188.4 L429.8 191.1 L425.8 193.8 L424.9 192.9 L425.9 190.4Z" fill="#d22532"/>
<path d="M437.8 179.2 L441.1 178.3 L442.9 180.9 L444.6 183.3 L443.2 183.7 L442.0 182.3 L442.0 185.5 L439.3 186.8 L439.5 185.8Z" fill="#d22532"/>
<path d="M424.3 182.2 L424.3 174.2 L430.7 172.9 L439.8 170.9 L440.3 169.8 L443.0 168.0 L445.4 169.9 L443.7 171.5 L443.2 174.3 L445.9 175.0 L447.8 177.3 L449.6 179.1 L452.0 177.3 L450.2 175.3 L452.0 175.6 L453.0 177.6 L453.3 180.4 L448.4 181.7 L447.7 180.0 L446.2 182.3 L444.6 183.3 L442.9 180.9 L441.1 178.3 L437.8 179.2Z" fill="#d22532"/>
<path d="M417.8 150.1 L431.7 146.6 L432.4 152.2 L430.1 157.4 L429.9 161.4 L429.6 166.6 L429.6 171.8 L430.7 172.9 L424.3 174.2 L422.2 165.1 L420.0 161.0 L419.1 155.6Z" fill="#d22532"/>
<path d="M431.7 146.6 L431.9 144.4 L434.0 142.6 L437.5 153.1 L440.3 162.7 L443.4 165.7 L443.0 168.0 L440.3 169.8 L439.8 170.9 L430.7 172.9 L429.6 171.8 L429.6 166.6 L429.9 161.4 L430.1 157.4 L432.4 152.2Z" fill="#d22532"/>
<path d="M443.4 165.7 L443.7 162.3 L445.6 158.9 L448.2 156.5 L451.4 153.3 L453.3 149.8 L453.7 146.9 L456.6 148.3 L459.8 145.6 L463.7 142.1 L465.8 138.5 L462.6 136.1 L461.0 134.8 L460.1 131.7 L457.0 130.3 L452.8 117.0 L448.2 115.1 L444.4 118.1 L442.6 116.0 L441.2 116.0 L437.9 125.6 L437.7 131.9 L437.8 136.5 L435.9 142.7 L434.0 142.6 L437.5 153.1 L440.3 162.7Z" fill="#d22532"/>
<path d="M368.6 194.3 L365.0 196.3 L359.9 201.1 L355.2 202.5 L351.4 202.3 L349.2 201.5 L345.4 200.5 L334.5 202.2 L337.7 230.9 L340.4 230.6 L343.3 233.6 L347.8 234.7 L352.0 234.5 L354.9 233.2 L357.4 236.0 L360.5 233.5 L360.9 230.1 L363.6 228.0 L364.8 225.4 L367.6 223.5 L369.9 219.7 L370.4 215.5 L370.4 211.8 L371.0 209.0Z" fill="#d22532"/>
<path d="M318.0 203.3 L315.1 205.1 L312.4 204.5 L314.7 230.5 L314.4 234.5 L315.3 240.0 L312.6 243.0 L311.7 248.1 L315.9 246.1 L319.9 247.4 L324.9 245.5 L328.7 244.3 L330.9 241.0 L333.3 235.7 L337.8 233.7 L337.7 230.9 L334.5 202.2 L334.4 201.6Z" fill="#d22532"/>
<path d="M312.4 204.5 L311.4 202.4 L309.7 199.2 L309.4 196.0 L286.4 197.5 L290.3 201.7 L290.8 205.1 L288.3 208.5 L283.9 210.4 L283.8 216.6 L281.5 221.4 L280.9 226.2 L283.7 230.5 L287.6 233.6 L289.1 237.4 L293.0 238.1 L292.7 241.1 L291.5 245.1 L295.8 248.2 L299.6 254.6 L303.1 257.9 L307.6 256.5 L308.8 255.0 L311.6 251.5 L311.7 248.1 L312.6 243.0 L315.3 240.0 L314.4 234.5 L314.7 230.5Z" fill="#d22532"/>
<path d="M309.4 196.0 L308.5 189.9 L309.0 182.6 L310.0 175.8 L311.1 170.2 L312.5 164.8 L310.1 168.6 L307.7 172.2 L305.9 173.4 L306.4 170.1 L308.4 167.1 L306.3 164.5 L305.9 160.2 L303.8 158.5 L298.4 157.7 L296.0 156.7 L288.1 155.0 L285.7 152.6 L283.1 151.5 L282.5 148.6 L279.6 149.6 L273.6 151.8 L271.4 152.3 L271.7 158.8 L268.6 160.8 L267.3 164.1 L268.5 167.4 L268.3 173.4 L272.3 175.5 L276.3 179.2 L280.5 182.9 L281.3 186.7 L282.5 192.2 L284.3 195.4 L286.4 197.5Z" fill="#d22532"/>
<path d="M345.4 200.5 L347.0 197.3 L347.4 193.9 L351.0 190.6 L351.5 185.5 L349.9 180.1 L348.1 175.9 L345.5 174.4 L342.6 176.7 L339.0 179.9 L339.0 176.6 L342.0 172.3 L342.1 166.7 L340.5 163.6 L335.8 160.3 L329.7 157.4 L327.5 159.6 L328.2 162.3 L325.3 163.8 L324.5 167.2 L323.8 165.0 L320.7 168.2 L319.4 171.1 L318.1 177.3 L318.5 182.3 L321.3 189.2 L322.3 195.8 L320.0 201.0 L318.0 203.3 L334.4 201.6 L334.5 202.2Z" fill="#d22532"/>
<path d="M308.4 167.1 L311.1 161.9 L312.4 159.6 L315.2 160.4 L316.1 158.1 L320.6 156.5 L324.2 154.7 L329.7 156.4 L332.8 154.9 L336.2 154.4 L333.9 151.7 L331.7 149.2 L327.5 149.9 L326.4 146.8 L322.0 148.3 L317.5 149.1 L314.0 151.7 L308.6 151.4 L305.6 147.7 L301.8 147.5 L300.4 149.3 L301.9 144.5 L305.0 141.5 L300.3 142.7 L296.1 147.2 L290.9 149.4 L285.7 152.6 L288.1 155.0 L296.0 156.7 L298.4 157.7 L303.8 158.5 L305.9 160.2 L306.3 164.5Z" fill="#d22532"/>
</g>
<g fill="#d22532">
<path d="M30.7 328.0 L36.7 322.9 L44.3 320.0 L52.9 321.5 L63.9 322.6 L70.8 359.6 L75.0 359.9 L80.1 363.0 L82.7 359.6 L88.7 363.0 L95.5 368.1 L98.6 370.6 L97.2 374.1 L92.9 374.1 L87.0 369.8 L81.8 365.5 L77.6 363.0 L73.3 360.8 L69.9 360.4 L63.1 358.7 L58.0 359.6 L55.4 363.0 L52.9 361.3 L51.2 364.7 L47.7 368.1 L44.3 371.5 L40.1 375.8 L34.1 379.2 L27.3 381.7 L20.5 383.8 L13.6 385.5 L18.8 382.6 L25.6 380.0 L32.4 376.6 L37.5 372.3 L40.9 367.2 L36.7 365.5 L32.4 364.7 L31.5 360.4 L27.3 359.2 L25.6 355.3 L29.8 352.7 L33.2 350.2 L31.5 346.8 L35.0 344.2 L36.7 340.8 L32.4 340.0 L27.3 339.1 L26.4 337.4 L31.5 335.7 L35.0 334.0 L32.4 332.3Z"/>
<path d="M17.1 344.6 L21.3 346.4 L20.8 347.6 L16.7 345.6Z"/>
<path d="M45.7 372.3 L48.6 369.5 L50.3 370.6 L47.4 373.5Z"/>
<path d="M22.2 359.2 L24.7 359.2 L24.7 360.6 L22.2 360.6Z"/>
</g><g fill="#d22532">
<path d="M110.5 350.2 L113.9 349.7 L115.3 351.4 L113.4 353.1 L110.8 352.4Z"/>
<path d="M105.7 352.7 L107.8 352.4 L107.8 353.8 L105.7 354.1Z"/>
<path d="M126.5 356.7 L129.2 356.2 L131.3 358.7 L129.6 359.9 L127.0 358.7Z"/>
<path d="M136.4 361.3 L141.2 361.3 L141.5 362.6 L136.7 362.6Z"/>
<path d="M142.4 363.5 L145.8 363.0 L149.2 365.5 L148.0 367.2 L144.9 366.4 L142.9 365.0Z"/>
<path d="M140.2 363.8 L141.9 363.8 L141.9 365.0 L140.2 365.0Z"/>
<path d="M150.0 372.9 L154.3 371.5 L158.6 374.9 L161.5 379.2 L157.7 382.6 L152.6 384.6 L150.9 380.4 L149.2 376.6Z"/>
</g>
<rect x="438.7" y="209.6" width="28.4" height="12.1" fill="#d22532"/>
<rect x="438.7" y="224.6" width="28.4" height="12.1" fill="#d22532"/>
<rect x="438.7" y="239.3" width="28.4" height="12.1" fill="#d22532"/>
<rect x="438.7" y="254.0" width="28.4" height="12.1" fill="#d22532"/>
<rect x="438.7" y="268.8" width="28.4" height="12.1" fill="#d22532"/>
<rect x="438.7" y="283.5" width="28.4" height="12.1" fill="#d22532"/>
<rect x="438.7" y="298.2" width="28.4" height="12.1" fill="#244999"/>
<g font-family="Liberation Sans, Arial, sans-serif" font-weight="bold" font-size="6.3" fill="#fff" text-anchor="middle">
<text x="62.2" y="121.0">WA</text>
<text x="62.2" y="127.3">10</text>
<text x="50.2" y="157.9">OR</text>
<text x="50.2" y="164.2">7</text>
<text x="94.0" y="164.2">ID</text>
<text x="94.0" y="170.5">4</text>
<text x="139.9" y="137.8">MT</text>
<text x="139.9" y="144.1">4</text>
<text x="208.9" y="141.6">ND</text>
<text x="208.9" y="147.9">3</text>
<text x="209.4" y="174.9">SD</text>
<text x="209.4" y="181.2">3</text>
<text x="150.0" y="185.0">WY</text>
<text x="150.0" y="191.3">3</text>
<text x="211.4" y="208.8">NE</text>
<text x="211.4" y="215.1">5</text>
<text x="69.0" y="213.1">NV</text>
<text x="69.0" y="219.4">4</text>
<text x="110.3" y="222.1">UT</text>
<text x="110.3" y="228.4">5</text>
<text x="161.7" y="230.9">CO</text>
<text x="161.7" y="237.2">8</text>
<text x="221.9" y="243.4">KS</text>
<text x="221.9" y="249.7">7</text>
<text x="34.4" y="230.1">CA</text>
<text x="34.4" y="236.4">47</text>
<text x="101.0" y="276.3">AZ</text>
<text x="101.0" y="282.6">7</text>
<text x="151.4" y="281.7">NM</text>
<text x="151.4" y="288.0">5</text>
<text x="228.7" y="276.0">OK</text>
<text x="228.7" y="282.3">8</text>
<text x="211.4" y="318.2">TX</text>
<text x="211.4" y="324.5">29</text>
<text x="253.1" y="153.6">MN</text>
<text x="253.1" y="159.9">10</text>
<text x="289.7" y="173.7">WI</text>
<text x="289.7" y="180.0">11</text>
<text x="329.0" y="180.0">MI</text>
<text x="329.0" y="186.3">20</text>
<text x="262.6" y="202.5">IA</text>
<text x="262.6" y="208.8">8</text>
<text x="299.7" y="221.8">IL</text>
<text x="299.7" y="228.1">24</text>
<text x="324.0" y="221.3">IN</text>
<text x="324.0" y="227.6">12</text>
<text x="352.1" y="216.3">OH</text>
<text x="352.1" y="222.6">23</text>
<text x="392.5" y="201.8">PA</text>
<text x="392.5" y="208.1">25</text>
<text x="408.5" y="173.7">NY</text>
<text x="408.5" y="180.0">36</text>
<text x="423.1" y="156.1">VT</text>
<text x="424.3" y="162.4">3</text>
<text x="434.4" y="163.2">NH</text>
<text x="434.4" y="169.5">4</text>
<text x="445.6" y="138.1">ME</text>
<text x="445.6" y="144.4">4</text>
<text x="371.7" y="234.6">WV</text>
<text x="371.7" y="240.9">6</text>
<text x="393.5" y="238.1">VA</text>
<text x="393.5" y="244.4">12</text>
<text x="341.1" y="248.2">KY</text>
<text x="341.1" y="254.5">9</text>
<text x="270.1" y="241.9">MO</text>
<text x="270.1" y="248.2">11</text>
<text x="328.3" y="269.0">TN</text>
<text x="328.3" y="275.3">11</text>
<text x="395.5" y="264.0">NC</text>
<text x="395.5" y="270.3">13</text>
<text x="274.6" y="283.5">AR</text>
<text x="274.6" y="289.8">6</text>
<text x="381.7" y="284.8">SC</text>
<text x="381.7" y="291.1">8</text>
<text x="301.5" y="303.2">MS</text>
<text x="301.5" y="309.5">7</text>
<text x="327.3" y="300.4">AL</text>
<text x="327.3" y="306.7">9</text>
<text x="357.4" y="298.7">GA</text>
<text x="357.4" y="305.0">12</text>
<text x="275.1" y="323.0">LA</text>
<text x="275.1" y="329.3">10</text>
<text x="385.0" y="350.1">FL</text>
<text x="385.0" y="356.4">21</text>
<text x="49.4" y="345.1">AK</text>
<text x="49.4" y="351.4">3</text>
<text x="142.9" y="377.7" fill="#222">HI</text>
<text x="142.9" y="384.0" fill="#222">4</text>
<text x="441.3" y="217.9" text-anchor="start">MA</text>
<text x="464.6" y="217.9" text-anchor="end">13</text>
<text x="441.3" y="232.9" text-anchor="start">RI</text>
<text x="464.6" y="232.9" text-anchor="end">4</text>
<text x="441.3" y="247.6" text-anchor="start">CT</text>
<text x="464.6" y="247.6" text-anchor="end">8</text>
<text x="441.3" y="262.3" text-anchor="start">NJ</text>
<text x="464.6" y="262.3" text-anchor="end">16</text>
<text x="441.3" y="277.1" text-anchor="start">DE</text>
<text x="464.6" y="277.1" text-anchor="end">3</text>
<text x="441.3" y="291.8" text-anchor="start">MD</text>
<text x="464.6" y="291.8" text-anchor="end">10</text>
<text x="441.3" y="306.5" text-anchor="start">DC</text>
<text x="464.6" y="306.5" text-anchor="end">3</text>
</g>
<text x="369.2" y="140.2" font-family="Liberation Sans, Arial, sans-serif" font-weight="bold" font-size="11" fill="#222" text-anchor="middle">1984 Actual</text>
<g font-family="Liberation Sans, Arial, sans-serif" font-weight="bold"><text x="389.2" y="318.1" font-size="19.6" fill="#1c3f76" textLength="26.6" lengthAdjust="spacingAndGlyphs" stroke="#1c3f76" stroke-width="1.1" stroke-linejoin="round">270</text><text x="397.0" y="328.7" font-size="10.4" font-weight="normal" fill="#a0354f" stroke="#a0354f" stroke-width="0.3" textLength="19.2" lengthAdjust="spacingAndGlyphs">WIN</text><text transform="translate(395.3,328.3) rotate(-90)" font-size="4.4" fill="#858585" textLength="6.2" lengthAdjust="spacingAndGlyphs">TO</text><rect x="389.2" y="321.6" width="6.8" height="0.7" fill="#999"/><rect x="389.2" y="328.0" width="6.8" height="0.7" fill="#999"/></g>
</g>
<g transform="translate(495.15 501.70) scale(1.0120)">
<g stroke="#fff" stroke-width="0.9" stroke-linejoin="round">
<path d="M50.1 99.9 L49.9 104.4 L50.1 110.1 L48.5 114.1 L46.9 117.7 L44.1 119.3 L43.3 118.1 L45.3 115.5 L46.7 111.7 L47.5 106.5 L46.6 105.5 L44.9 109.7 L40.1 107.3 L36.1 104.8 L32.8 102.8 L32.0 106.1 L32.4 114.1 L32.0 120.5 L32.8 124.5 L32.2 125.7 L36.3 127.2 L39.0 128.9 L40.2 131.8 L40.0 135.1 L43.0 137.2 L47.2 136.6 L51.4 138.7 L56.2 138.7 L60.9 138.9 L65.6 139.0 L68.7 139.4 L69.0 138.9 L84.3 142.5 L84.5 137.7 L90.7 110.3 L69.6 105.2Z" fill="#244999"/>
<path d="M32.2 125.7 L31.5 130.9 L28.7 139.3 L25.8 146.5 L22.7 153.6 L19.5 158.4 L16.7 160.6 L16.5 165.6 L16.3 170.2 L50.3 179.8 L73.8 185.5 L78.2 165.7 L79.8 161.8 L78.3 159.3 L81.6 155.5 L83.4 152.5 L86.3 148.6 L85.1 145.0 L84.3 142.5 L69.0 138.9 L68.7 139.4 L65.6 139.0 L60.9 138.9 L56.2 138.7 L51.4 138.7 L47.2 136.6 L43.0 137.2 L40.0 135.1 L40.2 131.8 L39.0 128.9 L36.3 127.2Z" fill="#244999"/>
<path d="M16.3 170.2 L15.5 175.7 L13.5 180.9 L9.7 186.1 L10.4 189.3 L11.6 195.5 L10.4 203.8 L12.7 209.7 L14.0 215.9 L17.8 219.1 L17.0 222.5 L16.7 226.5 L19.1 229.5 L20.7 231.7 L18.8 233.5 L18.4 236.8 L20.9 242.7 L23.5 248.0 L25.7 252.0 L24.1 258.0 L25.3 260.0 L31.9 262.3 L35.1 265.9 L41.0 268.7 L41.4 272.0 L44.8 274.0 L48.4 278.8 L50.5 283.9 L53.8 288.4 L72.0 290.5 L74.6 287.8 L73.6 283.1 L75.4 281.2 L77.5 276.2 L80.4 274.5 L79.0 272.3 L77.6 268.0 L77.7 265.8 L42.0 212.1 L50.3 179.8Z" fill="#d22532"/>
<path d="M50.3 179.8 L73.8 185.5 L97.6 190.4 L87.1 245.0 L85.4 253.7 L82.2 253.9 L79.0 253.8 L78.8 259.2 L77.7 265.8 L42.0 212.1Z" fill="#d22532"/>
<path d="M97.7 111.9 L90.7 110.3 L84.5 137.7 L84.3 142.5 L85.1 145.0 L86.3 148.6 L83.4 152.5 L81.6 155.5 L78.3 159.3 L79.8 161.8 L78.2 165.7 L73.8 185.5 L97.6 190.4 L121.5 194.6 L125.8 167.6 L123.6 164.4 L122.5 166.2 L116.3 165.2 L112.2 166.1 L110.6 163.6 L108.2 159.2 L106.0 150.5 L101.1 151.1 L103.4 147.6 L103.5 143.2 L105.0 139.6 L103.1 139.2 L101.1 135.4 L98.9 131.6 L96.8 128.7 L95.4 122.5Z" fill="#d22532"/>
<path d="M184.5 124.8 L155.7 121.7 L126.8 117.4 L97.7 111.9 L95.4 122.5 L96.8 128.7 L98.9 131.6 L101.1 135.4 L103.1 139.2 L105.0 139.6 L103.5 143.2 L103.4 147.6 L101.1 151.1 L106.0 150.5 L108.2 159.2 L110.6 163.6 L112.2 166.1 L116.3 165.2 L122.5 166.2 L123.6 164.4 L125.8 167.6 L126.7 161.9 L154.1 165.7 L180.8 168.5 L181.6 158.1Z" fill="#d22532"/>
<path d="M125.8 167.6 L126.7 161.9 L154.1 165.7 L180.8 168.5 L178.9 190.5 L177.0 212.6 L136.1 208.0 L119.8 205.6 L121.5 194.6Z" fill="#d22532"/>
<path d="M97.6 190.4 L121.5 194.6 L119.8 205.6 L136.1 208.0 L130.0 252.1 L87.1 245.0Z" fill="#d22532"/>
<path d="M136.1 208.0 L177.0 212.6 L193.5 213.8 L192.8 224.9 L190.6 258.2 L182.4 257.6 L130.0 252.1Z" fill="#d22532"/>
<path d="M87.1 245.0 L130.0 252.1 L121.4 314.4 L102.6 311.6 L70.7 292.8 L72.0 290.5 L74.6 287.8 L73.6 283.1 L75.4 281.2 L77.5 276.2 L80.4 274.5 L79.0 272.3 L77.6 268.0 L77.7 265.8 L78.8 259.2 L79.0 253.8 L82.2 253.9 L85.4 253.7Z" fill="#d22532"/>
<path d="M130.0 252.1 L182.4 257.6 L182.0 263.2 L177.7 312.9 L144.8 309.8 L145.4 312.4 L129.8 310.5 L129.2 315.4 L121.4 314.4Z" fill="#d22532"/>
<path d="M234.3 127.2 L210.4 126.5 L184.5 124.8 L181.6 158.1 L239.0 160.7 L238.7 156.8 L237.4 150.5 L236.9 143.6 L235.5 138.7 L234.8 132.7Z" fill="#d22532"/>
<path d="M239.0 160.7 L181.6 158.1 L180.8 168.5 L178.9 190.5 L223.3 192.9 L228.0 195.3 L233.7 194.8 L237.7 197.6 L239.7 198.9 L238.9 193.2 L238.5 187.7 L239.7 187.7 L238.5 187.7 L239.7 187.7 L239.8 167.8 L236.8 164.2Z" fill="#d22532"/>
<path d="M239.7 198.9 L237.7 197.6 L233.7 194.8 L228.0 195.3 L223.3 192.9 L178.9 190.5 L177.0 212.6 L193.5 213.8 L192.8 224.9 L249.1 226.5 L246.6 223.2 L245.2 220.1 L244.3 215.4 L243.9 212.1 L242.5 207.6 L240.9 202.1Z" fill="#d22532"/>
<path d="M249.1 226.5 L192.8 224.9 L190.6 258.2 L255.3 259.8 L255.1 236.4 L252.6 233.7 L250.8 228.1Z" fill="#d22532"/>
<path d="M182.4 257.6 L190.6 258.2 L255.3 259.8 L255.4 265.3 L257.3 277.5 L257.1 297.1 L253.3 296.5 L249.7 294.3 L245.1 294.6 L239.7 296.0 L235.1 293.7 L232.4 295.3 L227.9 293.6 L224.3 291.9 L219.8 291.2 L214.4 289.4 L210.9 288.1 L207.3 286.2 L208.2 264.7 L182.0 263.2Z" fill="#d22532"/>
<path d="M182.0 263.2 L208.2 264.7 L207.3 286.2 L210.9 288.1 L214.4 289.4 L219.8 291.2 L224.3 291.9 L227.9 293.6 L232.4 295.3 L235.1 293.7 L239.7 296.0 L245.1 294.6 L249.7 294.3 L253.3 296.5 L257.1 297.1 L261.2 298.0 L261.3 303.9 L261.5 315.2 L262.9 316.8 L266.3 324.5 L265.1 330.6 L265.2 336.1 L263.9 340.5 L259.6 341.7 L255.3 344.5 L251.0 348.4 L244.3 352.3 L243.0 352.2 L237.3 355.6 L233.8 359.4 L230.8 363.4 L228.3 367.0 L226.9 371.3 L227.2 377.0 L229.2 382.6 L227.3 382.8 L222.3 380.6 L217.4 378.3 L212.0 375.4 L209.7 369.8 L209.0 364.3 L203.4 356.9 L199.8 350.7 L195.8 343.4 L191.7 338.5 L186.0 337.8 L180.3 338.0 L177.5 342.8 L174.9 346.1 L173.0 345.8 L168.4 342.4 L164.8 340.1 L161.9 337.1 L160.7 331.5 L158.4 326.3 L153.2 321.0 L148.0 316.1 L145.4 312.4 L144.8 309.8 L177.7 312.9Z" fill="#d22532"/>
<path d="M291.6 136.4 L287.8 135.7 L282.2 136.0 L276.7 136.6 L272.9 134.3 L269.1 132.8 L263.2 131.1 L259.5 131.4 L253.6 130.2 L251.7 124.0 L249.5 123.1 L249.5 127.2 L234.3 127.2 L234.8 132.7 L235.5 138.7 L236.9 143.6 L237.4 150.5 L238.7 156.8 L239.0 160.7 L236.8 164.2 L239.8 167.8 L239.7 187.7 L281.3 186.7 L280.5 182.9 L276.3 179.2 L272.3 175.5 L268.3 173.4 L268.5 167.4 L267.3 164.1 L268.6 160.8 L271.7 158.8 L271.4 152.3 L272.8 151.2 L277.2 147.2 L281.5 142.6 L285.8 139.3Z" fill="#244999"/>
<path d="M238.5 187.7 L239.7 187.7 L281.3 186.7 L282.5 192.2 L284.3 195.4 L286.4 197.5 L290.3 201.7 L290.8 205.1 L288.3 208.5 L283.9 210.4 L283.8 216.6 L281.5 221.4 L278.7 218.9 L245.2 220.1 L244.3 215.4 L243.9 212.1 L242.5 207.6 L240.9 202.1 L239.7 198.9 L238.9 193.2Z" fill="#244999"/>
<path d="M245.2 220.1 L278.7 218.9 L281.5 221.4 L280.9 226.2 L283.7 230.5 L287.6 233.6 L289.1 237.4 L293.0 238.1 L292.7 241.1 L291.5 245.1 L295.8 248.2 L299.6 254.6 L303.1 257.9 L302.8 261.6 L300.3 263.5 L299.1 266.3 L298.9 269.1 L293.0 269.5 L294.6 263.8 L255.4 265.3 L255.3 259.8 L255.1 236.4 L252.6 233.7 L250.8 228.1 L249.1 226.5 L246.6 223.2Z" fill="#d22532"/>
<path d="M255.4 265.3 L294.6 263.8 L293.0 269.5 L298.9 269.1 L297.0 274.3 L295.9 278.8 L294.3 280.6 L293.9 282.8 L292.1 286.3 L289.4 290.8 L288.3 295.3 L287.6 298.7 L287.6 303.2 L261.3 303.9 L261.2 298.0 L257.1 297.1 L257.3 277.5Z" fill="#d22532"/>
<path d="M261.3 303.9 L287.6 303.2 L288.9 307.5 L290.5 310.8 L288.4 314.2 L286.3 319.3 L284.7 325.5 L302.3 324.5 L301.4 328.4 L303.5 331.6 L304.8 333.4 L301.2 333.4 L302.8 334.9 L306.6 334.7 L307.2 336.8 L304.9 338.7 L308.5 342.3 L310.2 345.5 L307.4 346.8 L304.9 345.3 L301.4 343.9 L298.2 345.7 L292.4 346.3 L288.4 344.0 L283.5 342.1 L280.6 341.1 L275.8 341.3 L270.0 339.6 L263.9 340.5 L265.2 336.1 L265.1 330.6 L266.3 324.5 L262.9 316.8 L261.5 315.2Z" fill="#d22532"/>
<path d="M294.3 280.6 L313.0 279.2 L314.0 280.3 L313.3 313.7 L315.3 330.5 L310.6 330.5 L306.8 331.7 L304.8 333.4 L303.5 331.6 L301.4 328.4 L302.3 324.5 L284.7 325.5 L286.3 319.3 L288.4 314.2 L290.5 310.8 L288.9 307.5 L287.6 303.2 L287.6 298.7 L288.3 295.3 L289.4 290.8 L292.1 286.3 L293.9 282.8Z" fill="#d22532"/>
<path d="M313.0 279.2 L336.1 277.0 L342.6 300.1 L344.9 306.1 L345.1 313.9 L346.6 320.4 L322.3 322.9 L322.4 324.6 L324.5 326.6 L323.9 330.8 L320.6 330.8 L319.6 327.4 L318.4 327.1 L318.2 330.5 L315.3 330.5 L313.3 313.7 L314.0 280.3Z" fill="#d22532"/>
<path d="M323.9 330.8 L330.1 329.6 L335.1 329.6 L342.1 332.1 L345.1 334.6 L349.1 334.1 L353.1 331.6 L357.1 330.6 L362.2 334.1 L367.2 337.1 L370.2 342.1 L371.2 348.1 L371.7 352.1 L375.2 357.1 L379.2 361.2 L380.2 363.2 L384.2 367.2 L385.2 370.2 L389.2 372.2 L391.7 376.2 L393.8 379.2 L399.6 376.7 L400.8 370.2 L400.8 363.2 L399.3 357.1 L395.3 350.1 L391.7 342.1 L386.2 334.1 L382.2 327.1 L380.2 319.1 L374.9 319.1 L375.1 323.8 L373.4 321.7 L348.3 323.5 L346.6 320.4 L322.3 322.9 L322.4 324.6 L324.5 326.6Z" fill="#d22532"/>
<path d="M336.1 277.0 L347.5 275.7 L358.3 274.3 L356.6 277.9 L361.4 280.0 L364.3 284.6 L368.5 288.0 L371.1 289.8 L375.9 294.1 L377.5 298.4 L380.4 302.4 L383.2 303.9 L381.5 309.0 L380.3 313.6 L380.2 319.1 L374.9 319.1 L375.1 323.8 L373.4 321.7 L348.3 323.5 L346.6 320.4 L345.1 313.9 L344.9 306.1 L342.6 300.1Z" fill="#d22532"/>
<path d="M358.3 274.3 L364.7 271.1 L376.3 269.9 L376.5 271.0 L377.4 270.3 L379.2 273.2 L388.9 271.8 L400.8 280.2 L398.1 284.6 L395.7 289.4 L391.7 294.2 L387.7 299.0 L383.2 303.9 L380.4 302.4 L377.5 298.4 L375.9 294.1 L371.1 289.8 L368.5 288.0 L364.3 284.6 L361.4 280.0 L356.6 277.9Z" fill="#d22532"/>
<path d="M368.3 255.0 L418.4 246.3 L419.5 248.8 L420.6 250.6 L414.0 254.6 L421.2 252.4 L421.8 254.9 L419.8 259.7 L418.9 260.6 L414.5 261.2 L418.2 262.1 L418.6 264.5 L416.6 267.3 L413.3 269.3 L410.1 271.7 L407.7 274.9 L406.1 278.2 L400.8 280.2 L388.9 271.8 L379.2 273.2 L377.4 270.3 L376.5 271.0 L376.3 269.9 L364.7 271.1 L358.3 274.3 L347.5 275.7 L349.8 270.9 L354.0 268.5 L358.2 263.6 L361.2 262.7 L365.8 260.9 L368.5 257.8Z" fill="#d22532"/>
<path d="M350.9 257.3 L326.3 259.6 L312.8 260.5 L312.9 262.5 L300.3 263.5 L299.1 266.3 L298.9 269.1 L297.0 274.3 L295.9 278.8 L294.3 280.6 L313.0 279.2 L336.1 277.0 L347.5 275.7 L349.8 270.9 L354.0 268.5 L358.2 263.6 L361.2 262.7 L365.8 260.9 L368.5 257.8 L368.3 255.0Z" fill="#d22532"/>
<path d="M357.4 236.0 L354.9 233.2 L352.0 234.5 L347.8 234.7 L343.3 233.6 L340.4 230.6 L337.7 230.9 L337.8 233.7 L333.3 235.7 L330.9 241.0 L328.7 244.3 L324.9 245.5 L319.9 247.4 L315.9 246.1 L311.7 248.1 L311.6 251.5 L308.8 255.0 L307.6 256.5 L303.1 257.9 L302.8 261.6 L300.3 263.5 L312.9 262.5 L312.8 260.5 L326.3 259.6 L350.9 257.3 L355.6 253.9 L358.7 251.2 L361.7 248.0 L364.2 244.9 L361.1 243.6 L359.5 241.6 L357.8 238.4Z" fill="#d22532"/>
<path d="M368.3 255.0 L418.4 246.3 L416.4 242.4 L413.4 242.8 L413.1 239.4 L412.3 235.6 L412.1 232.2 L409.1 230.6 L405.4 229.7 L402.6 229.1 L402.5 226.1 L403.4 223.9 L402.4 222.5 L398.9 221.3 L396.6 219.3 L396.1 221.5 L391.2 219.4 L388.2 227.1 L385.7 230.8 L382.0 230.2 L380.2 237.2 L378.5 242.9 L373.8 246.1 L371.0 247.2 L367.2 248.3 L364.2 244.9 L361.7 248.0 L358.7 251.2 L355.6 253.9 L350.9 257.3Z" fill="#d22532"/>
<path d="M417.0 230.6 L416.1 234.8 L415.7 238.9 L416.4 240.2 L417.5 237.3 L418.4 233.2 L420.2 229.0Z" fill="#d22532"/>
<path d="M357.4 236.0 L360.5 233.5 L360.9 230.1 L363.6 228.0 L364.8 225.4 L367.6 223.5 L369.9 219.7 L370.4 215.5 L370.4 211.8 L371.0 209.0 L372.6 219.1 L381.3 217.6 L382.3 223.3 L384.9 220.0 L387.1 217.9 L390.4 217.1 L391.9 216.1 L395.0 216.4 L396.6 219.3 L396.1 221.5 L391.2 219.4 L388.2 227.1 L385.7 230.8 L382.0 230.2 L380.2 237.2 L378.5 242.9 L373.8 246.1 L371.0 247.2 L367.2 248.3 L364.2 244.9 L361.1 243.6 L359.5 241.6 L357.8 238.4Z" fill="#244999"/>
<path d="M381.3 217.6 L411.6 211.6 L415.3 225.2 L420.8 224.1 L420.2 229.0 L417.0 230.6 L414.9 229.4 L413.8 227.9 L411.1 225.6 L410.0 222.5 L410.1 219.0 L411.1 215.4 L410.3 213.9 L409.8 215.5 L407.7 218.4 L407.7 221.8 L409.5 227.1 L410.7 230.3 L412.1 232.2 L409.1 230.6 L405.4 229.7 L402.6 229.1 L402.5 226.1 L403.4 223.9 L402.4 222.5 L398.9 221.3 L396.6 219.3 L395.0 216.4 L391.9 216.1 L390.4 217.1 L387.1 217.9 L384.9 220.0 L382.3 223.3Z" fill="#d22532"/>
<path d="M411.6 211.6 L412.5 210.2 L414.5 210.1 L413.8 212.3 L414.8 214.6 L416.7 217.6 L419.7 220.4 L420.8 224.1 L415.3 225.2Z" fill="#d22532"/>
<path d="M413.8 212.3 L415.6 214.4 L418.6 216.0 L420.6 218.7 L422.6 214.6 L424.7 208.9 L424.9 204.3 L424.6 200.4 L422.3 200.4 L423.6 197.8 L423.8 194.3 L416.5 191.9 L414.3 197.1 L414.1 200.0 L415.5 201.3 L419.0 204.6 L416.6 208.5 L414.5 210.1Z" fill="#d22532"/>
<path d="M374.1 190.1 L368.6 194.3 L371.0 209.0 L372.6 219.1 L381.3 217.6 L411.6 211.6 L412.5 210.2 L414.5 210.1 L416.6 208.5 L419.0 204.6 L415.5 201.3 L414.1 200.0 L414.3 197.1 L416.5 191.9 L412.6 188.3 L409.8 186.1 L374.6 193.0Z" fill="#d22532"/>
<path d="M417.8 150.1 L407.4 152.7 L403.4 155.3 L400.5 160.4 L397.1 165.1 L398.7 167.0 L399.5 170.8 L395.3 174.3 L389.2 176.3 L381.9 176.3 L377.8 178.3 L378.4 180.6 L379.7 182.0 L378.6 184.7 L374.1 190.1 L374.6 193.0 L409.8 186.1 L412.6 188.3 L416.5 191.9 L423.8 194.3 L423.6 197.8 L424.5 198.9 L429.6 196.9 L435.5 193.2 L439.9 189.5 L436.3 189.8 L433.9 192.1 L429.7 193.8 L425.7 195.2 L425.8 193.8 L424.9 192.9 L425.9 190.4 L424.3 182.2 L424.3 174.2 L422.2 165.1 L420.0 161.0 L419.1 155.6Z" fill="#244999"/>
<path d="M424.3 182.2 L437.8 179.2 L439.5 185.8 L439.3 186.8 L435.1 188.4 L429.8 191.1 L425.8 193.8 L424.9 192.9 L425.9 190.4Z" fill="#d22532"/>
<path d="M437.8 179.2 L441.1 178.3 L442.9 180.9 L444.6 183.3 L443.2 183.7 L442.0 182.3 L442.0 185.5 L439.3 186.8 L439.5 185.8Z" fill="#244999"/>
<path d="M424.3 182.2 L424.3 174.2 L430.7 172.9 L439.8 170.9 L440.3 169.8 L443.0 168.0 L445.4 169.9 L443.7 171.5 L443.2 174.3 L445.9 175.0 L447.8 177.3 L449.6 179.1 L452.0 177.3 L450.2 175.3 L452.0 175.6 L453.0 177.6 L453.3 180.4 L448.4 181.7 L447.7 180.0 L446.2 182.3 L444.6 183.3 L442.9 180.9 L441.1 178.3 L437.8 179.2Z" fill="#244999"/>
<path d="M417.8 150.1 L431.7 146.6 L432.4 152.2 L430.1 157.4 L429.9 161.4 L429.6 166.6 L429.6 171.8 L430.7 172.9 L424.3 174.2 L422.2 165.1 L420.0 161.0 L419.1 155.6Z" fill="#d22532"/>
<path d="M431.7 146.6 L431.9 144.4 L434.0 142.6 L437.5 153.1 L440.3 162.7 L443.4 165.7 L443.0 168.0 L440.3 169.8 L439.8 170.9 L430.7 172.9 L429.6 171.8 L429.6 166.6 L429.9 161.4 L430.1 157.4 L432.4 152.2Z" fill="#d22532"/>
<path d="M443.4 165.7 L443.7 162.3 L445.6 158.9 L448.2 156.5 L451.4 153.3 L453.3 149.8 L453.7 146.9 L456.6 148.3 L459.8 145.6 L463.7 142.1 L465.8 138.5 L462.6 136.1 L461.0 134.8 L460.1 131.7 L457.0 130.3 L452.8 117.0 L448.2 115.1 L444.4 118.1 L442.6 116.0 L441.2 116.0 L437.9 125.6 L437.7 131.9 L437.8 136.5 L435.9 142.7 L434.0 142.6 L437.5 153.1 L440.3 162.7Z" fill="#d22532"/>
<path d="M368.6 194.3 L365.0 196.3 L359.9 201.1 L355.2 202.5 L351.4 202.3 L349.2 201.5 L345.4 200.5 L334.5 202.2 L337.7 230.9 L340.4 230.6 L343.3 233.6 L347.8 234.7 L352.0 234.5 L354.9 233.2 L357.4 236.0 L360.5 233.5 L360.9 230.1 L363.6 228.0 L364.8 225.4 L367.6 223.5 L369.9 219.7 L370.4 215.5 L370.4 211.8 L371.0 209.0Z" fill="#d22532"/>
<path d="M318.0 203.3 L315.1 205.1 L312.4 204.5 L314.7 230.5 L314.4 234.5 L315.3 240.0 L312.6 243.0 L311.7 248.1 L315.9 246.1 L319.9 247.4 L324.9 245.5 L328.7 244.3 L330.9 241.0 L333.3 235.7 L337.8 233.7 L337.7 230.9 L334.5 202.2 L334.4 201.6Z" fill="#d22532"/>
<path d="M312.4 204.5 L311.4 202.4 L309.7 199.2 L309.4 196.0 L286.4 197.5 L290.3 201.7 L290.8 205.1 L288.3 208.5 L283.9 210.4 L283.8 216.6 L281.5 221.4 L280.9 226.2 L283.7 230.5 L287.6 233.6 L289.1 237.4 L293.0 238.1 L292.7 241.1 L291.5 245.1 L295.8 248.2 L299.6 254.6 L303.1 257.9 L307.6 256.5 L308.8 255.0 L311.6 251.5 L311.7 248.1 L312.6 243.0 L315.3 240.0 L314.4 234.5 L314.7 230.5Z" fill="#d22532"/>
<path d="M309.4 196.0 L308.5 189.9 L309.0 182.6 L310.0 175.8 L311.1 170.2 L312.5 164.8 L310.1 168.6 L307.7 172.2 L305.9 173.4 L306.4 170.1 L308.4 167.1 L306.3 164.5 L305.9 160.2 L303.8 158.5 L298.4 157.7 L296.0 156.7 L288.1 155.0 L285.7 152.6 L283.1 151.5 L282.5 148.6 L279.6 149.6 L273.6 151.8 L271.4 152.3 L271.7 158.8 L268.6 160.8 L267.3 164.1 L268.5 167.4 L268.3 173.4 L272.3 175.5 L276.3 179.2 L280.5 182.9 L281.3 186.7 L282.5 192.2 L284.3 195.4 L286.4 197.5Z" fill="#244999"/>
<path d="M345.4 200.5 L347.0 197.3 L347.4 193.9 L351.0 190.6 L351.5 185.5 L349.9 180.1 L348.1 175.9 L345.5 174.4 L342.6 176.7 L339.0 179.9 L339.0 176.6 L342.0 172.3 L342.1 166.7 L340.5 163.6 L335.8 160.3 L329.7 157.4 L327.5 159.6 L328.2 162.3 L325.3 163.8 L324.5 167.2 L323.8 165.0 L320.7 168.2 L319.4 171.1 L318.1 177.3 L318.5 182.3 L321.3 189.2 L322.3 195.8 L320.0 201.0 L318.0 203.3 L334.4 201.6 L334.5 202.2Z" fill="#d22532"/>
<path d="M308.4 167.1 L311.1 161.9 L312.4 159.6 L315.2 160.4 L316.1 158.1 L320.6 156.5 L324.2 154.7 L329.7 156.4 L332.8 154.9 L336.2 154.4 L333.9 151.7 L331.7 149.2 L327.5 149.9 L326.4 146.8 L322.0 148.3 L317.5 149.1 L314.0 151.7 L308.6 151.4 L305.6 147.7 L301.8 147.5 L300.4 149.3 L301.9 144.5 L305.0 141.5 L300.3 142.7 L296.1 147.2 L290.9 149.4 L285.7 152.6 L288.1 155.0 L296.0 156.7 L298.4 157.7 L303.8 158.5 L305.9 160.2 L306.3 164.5Z" fill="#d22532"/>
</g>
<g fill="#d22532">
<path d="M30.7 328.0 L36.7 322.9 L44.3 320.0 L52.9 321.5 L63.9 322.6 L70.8 359.6 L75.0 359.9 L80.1 363.0 L82.7 359.6 L88.7 363.0 L95.5 368.1 L98.6 370.6 L97.2 374.1 L92.9 374.1 L87.0 369.8 L81.8 365.5 L77.6 363.0 L73.3 360.8 L69.9 360.4 L63.1 358.7 L58.0 359.6 L55.4 363.0 L52.9 361.3 L51.2 364.7 L47.7 368.1 L44.3 371.5 L40.1 375.8 L34.1 379.2 L27.3 381.7 L20.5 383.8 L13.6 385.5 L18.8 382.6 L25.6 380.0 L32.4 376.6 L37.5 372.3 L40.9 367.2 L36.7 365.5 L32.4 364.7 L31.5 360.4 L27.3 359.2 L25.6 355.3 L29.8 352.7 L33.2 350.2 L31.5 346.8 L35.0 344.2 L36.7 340.8 L32.4 340.0 L27.3 339.1 L26.4 337.4 L31.5 335.7 L35.0 334.0 L32.4 332.3Z"/>
<path d="M17.1 344.6 L21.3 346.4 L20.8 347.6 L16.7 345.6Z"/>
<path d="M45.7 372.3 L48.6 369.5 L50.3 370.6 L47.4 373.5Z"/>
<path d="M22.2 359.2 L24.7 359.2 L24.7 360.6 L22.2 360.6Z"/>
</g><g fill="#244999">
<path d="M110.5 350.2 L113.9 349.7 L115.3 351.4 L113.4 353.1 L110.8 352.4Z"/>
<path d="M105.7 352.7 L107.8 352.4 L107.8 353.8 L105.7 354.1Z"/>
<path d="M126.5 356.7 L129.2 356.2 L131.3 358.7 L129.6 359.9 L127.0 358.7Z"/>
<path d="M136.4 361.3 L141.2 361.3 L141.5 362.6 L136.7 362.6Z"/>
<path d="M142.4 363.5 L145.8 363.0 L149.2 365.5 L148.0 367.2 L144.9 366.4 L142.9 365.0Z"/>
<path d="M140.2 363.8 L141.9 363.8 L141.9 365.0 L140.2 365.0Z"/>
<path d="M150.0 372.9 L154.3 371.5 L158.6 374.9 L161.5 379.2 L157.7 382.6 L152.6 384.6 L150.9 380.4 L149.2 376.6Z"/>
</g>
<rect x="438.7" y="209.6" width="28.4" height="12.1" fill="#244999"/>
<rect x="438.7" y="224.6" width="28.4" height="12.1" fill="#244999"/>
<rect x="438.7" y="239.3" width="28.4" height="12.1" fill="#d22532"/>
<rect x="438.7" y="254.0" width="28.4" height="12.1" fill="#d22532"/>
<rect x="438.7" y="268.8" width="28.4" height="12.1" fill="#d22532"/>
<rect x="438.7" y="283.5" width="28.4" height="12.1" fill="#d22532"/>
<rect x="438.7" y="298.2" width="28.4" height="12.1" fill="#244999"/>
<g font-family="Liberation Sans, Arial, sans-serif" font-weight="bold" font-size="6.3" fill="#fff" text-anchor="middle">
<text x="62.2" y="121.0">WA</text>
<text x="62.2" y="127.3">10</text>
<text x="50.2" y="157.9">OR</text>
<text x="50.2" y="164.2">7</text>
<text x="94.0" y="164.2">ID</text>
<text x="94.0" y="170.5">4</text>
<text x="139.9" y="137.8">MT</text>
<text x="139.9" y="144.1">4</text>
<text x="208.9" y="141.6">ND</text>
<text x="208.9" y="147.9">3</text>
<text x="209.4" y="174.9">SD</text>
<text x="209.4" y="181.2">3</text>
<text x="150.0" y="185.0">WY</text>
<text x="150.0" y="191.3">3</text>
<text x="211.4" y="208.8">NE</text>
<text x="211.4" y="215.1">5</text>
<text x="69.0" y="213.1">NV</text>
<text x="69.0" y="219.4">4</text>
<text x="110.3" y="222.1">UT</text>
<text x="110.3" y="228.4">5</text>
<text x="161.7" y="230.9">CO</text>
<text x="161.7" y="237.2">8</text>
<text x="221.9" y="243.4">KS</text>
<text x="221.9" y="249.7">7</text>
<text x="34.4" y="230.1">CA</text>
<text x="34.4" y="236.4">47</text>
<text x="101.0" y="276.3">AZ</text>
<text x="101.0" y="282.6">7</text>
<text x="151.4" y="281.7">NM</text>
<text x="151.4" y="288.0">5</text>
<text x="228.7" y="276.0">OK</text>
<text x="228.7" y="282.3">8</text>
<text x="211.4" y="318.2">TX</text>
<text x="211.4" y="324.5">29</text>
<text x="253.1" y="153.6">MN</text>
<text x="253.1" y="159.9">10</text>
<text x="289.7" y="173.7">WI</text>
<text x="289.7" y="180.0">11</text>
<text x="329.0" y="180.0">MI</text>
<text x="329.0" y="186.3">20</text>
<text x="262.6" y="202.5">IA</text>
<text x="262.6" y="208.8">8</text>
<text x="299.7" y="221.8">IL</text>
<text x="299.7" y="228.1">24</text>
<text x="324.0" y="221.3">IN</text>
<text x="324.0" y="227.6">12</text>
<text x="352.1" y="216.3">OH</text>
<text x="352.1" y="222.6">23</text>
<text x="392.5" y="201.8">PA</text>
<text x="392.5" y="208.1">25</text>
<text x="408.5" y="173.7">NY</text>
<text x="408.5" y="180.0">36</text>
<text x="423.1" y="156.1">VT</text>
<text x="424.3" y="162.4">3</text>
<text x="434.4" y="163.2">NH</text>
<text x="434.4" y="169.5">4</text>
<text x="445.6" y="138.1">ME</text>
<text x="445.6" y="144.4">4</text>
<text x="371.7" y="234.6">WV</text>
<text x="367.1" y="241.8">5</text>
<rect x="372.9" y="236.1" width="6.8" height="7" rx="1.5" fill="#3c3c34"/>
<text x="376.3" y="241.8">1</text>
<text x="393.5" y="238.1">VA</text>
<text x="393.5" y="244.4">12</text>
<text x="341.1" y="248.2">KY</text>
<text x="341.1" y="254.5">9</text>
<text x="270.1" y="241.9">MO</text>
<text x="270.1" y="248.2">11</text>
<text x="328.3" y="269.0">TN</text>
<text x="328.3" y="275.3">11</text>
<text x="395.5" y="264.0">NC</text>
<text x="395.5" y="270.3">13</text>
<text x="274.6" y="283.5">AR</text>
<text x="274.6" y="289.8">6</text>
<text x="381.7" y="284.8">SC</text>
<text x="381.7" y="291.1">8</text>
<text x="301.5" y="303.2">MS</text>
<text x="301.5" y="309.5">7</text>
<text x="327.3" y="300.4">AL</text>
<text x="327.3" y="306.7">9</text>
<text x="357.4" y="298.7">GA</text>
<text x="357.4" y="305.0">12</text>
<text x="275.1" y="323.0">LA</text>
<text x="275.1" y="329.3">10</text>
<text x="385.0" y="350.1">FL</text>
<text x="385.0" y="356.4">21</text>
<text x="49.4" y="345.1">AK</text>
<text x="49.4" y="351.4">3</text>
<text x="142.9" y="377.7" fill="#222">HI</text>
<text x="142.9" y="384.0" fill="#222">4</text>
<text x="441.3" y="217.9" text-anchor="start">MA</text>
<text x="464.6" y="217.9" text-anchor="end">13</text>
<text x="441.3" y="232.9" text-anchor="start">RI</text>
<text x="464.6" y="232.9" text-anchor="end">4</text>
<text x="441.3" y="247.6" text-anchor="start">CT</text>
<text x="464.6" y="247.6" text-anchor="end">8</text>
<text x="441.3" y="262.3" text-anchor="start">NJ</text>
<text x="464.6" y="262.3" text-anchor="end">16</text>
<text x="441.3" y="277.1" text-anchor="start">DE</text>
<text x="464.6" y="277.1" text-anchor="end">3</text>
<text x="441.3" y="291.8" text-anchor="start">MD</text>
<text x="464.6" y="291.8" text-anchor="end">10</text>
<text x="441.3" y="306.5" text-anchor="start">DC</text>
<text x="464.6" y="306.5" text-anchor="end">3</text>
</g>
<text x="369.2" y="140.2" font-family="Liberation Sans, Arial, sans-serif" font-weight="bold" font-size="11" fill="#222" text-anchor="middle">1988 Actual</text>
<g font-family="Liberation Sans, Arial, sans-serif" font-weight="bold"><text x="389.2" y="318.1" font-size="19.6" fill="#1c3f76" textLength="26.6" lengthAdjust="spacingAndGlyphs" stroke="#1c3f76" stroke-width="1.1" stroke-linejoin="round">270</text><text x="397.0" y="328.7" font-size="10.4" font-weight="normal" fill="#a0354f" stroke="#a0354f" stroke-width="0.3" textLength="19.2" lengthAdjust="spacingAndGlyphs">WIN</text><text transform="translate(395.3,328.3) rotate(-90)" font-size="4.4" fill="#858585" textLength="6.2" lengthAdjust="spacingAndGlyphs">TO</text><rect x="389.2" y="321.6" width="6.8" height="0.7" fill="#999"/><rect x="389.2" y="328.0" width="6.8" height="0.7" fill="#999"/></g>
</g>
</svg>
<div style="position:absolute;left:0.00px;top:409.00px;width:494.00px;height:1.00px;background:#e3e3e3;"></div>
<div style="position:absolute;left:0.00px;top:430.00px;width:494.00px;height:23.40px;background:#f1f1f1;"></div>
<div style="position:absolute;left:0.00px;top:474.70px;width:494.00px;height:19.30px;background:#f1f1f1;"></div>
<div style="position:absolute;left:0.00px;top:429.50px;width:494.00px;height:1.00px;background:#e4e4e4;"></div>
<div style="position:absolute;left:0.00px;top:452.90px;width:494.00px;height:1.00px;background:#e4e4e4;"></div>
<div style="position:absolute;left:0.00px;top:474.20px;width:494.00px;height:1.00px;background:#e4e4e4;"></div>
<div style="position:absolute;left:0.00px;top:493.50px;width:494.00px;height:1.00px;background:#e4e4e4;"></div>
<div style="position:absolute;top:415.33px;font-size:10.60px;line-height:1;color:#222;white-space:pre;font-weight:bold;letter-spacing:-0.040em;left:28.00px;">Candidate</div>
<div style="position:absolute;top:415.33px;font-size:10.60px;line-height:1;color:#222;white-space:pre;font-weight:bold;letter-spacing:-0.040em;left:222.70px;">Party</div>
<div style="position:absolute;top:415.33px;font-size:10.60px;line-height:1;color:#222;white-space:pre;font-weight:bold;letter-spacing:-0.040em;right:603.22px;">Electoral Votes</div>
<div style="position:absolute;top:415.33px;font-size:10.60px;line-height:1;color:#222;white-space:pre;font-weight:bold;letter-spacing:-0.040em;right:506.72px;">Popular Votes</div>
<div style="position:absolute;left:6.30px;top:434.50px;width:12.10px;height:12.00px;background:#244999;"></div>
<div style="position:absolute;top:436.81px;font-size:10.60px;line-height:1;color:#505050;white-space:pre;letter-spacing:-0.040em;left:28.00px;">Jimmy Carter</div>
<div style="position:absolute;top:436.81px;font-size:10.60px;line-height:1;color:#505050;white-space:pre;letter-spacing:-0.040em;left:222.70px;">Democratic</div>
<div style="position:absolute;top:436.81px;font-size:10.60px;line-height:1;color:#505050;white-space:pre;letter-spacing:-0.040em;right:603.22px;">297</div>
<div style="position:absolute;top:436.81px;font-size:10.60px;line-height:1;color:#505050;white-space:pre;letter-spacing:-0.040em;right:506.72px;">40,825,839</div>
<div style="position:absolute;left:6.30px;top:457.90px;width:12.10px;height:12.00px;background:#d22532;"></div>
<div style="position:absolute;top:458.51px;font-size:10.60px;line-height:1;color:#505050;white-space:pre;letter-spacing:-0.040em;left:28.00px;">Gerald R. Ford (I)</div>
<div style="position:absolute;top:458.51px;font-size:10.60px;line-height:1;color:#505050;white-space:pre;letter-spacing:-0.040em;left:222.70px;">Republican</div>
<div style="position:absolute;top:458.51px;font-size:10.60px;line-height:1;color:#505050;white-space:pre;letter-spacing:-0.040em;right:603.22px;">240</div>
<div style="position:absolute;top:458.51px;font-size:10.60px;line-height:1;color:#505050;white-space:pre;letter-spacing:-0.040em;right:506.72px;">39,147,770</div>
<div style="position:absolute;left:6.30px;top:479.20px;width:12.10px;height:12.00px;background:#3a3a3a;"></div>
<div style="position:absolute;top:479.81px;font-size:10.60px;line-height:1;color:#505050;white-space:pre;letter-spacing:-0.040em;left:28.00px;">Other: See Election Facts Below</div>
<div style="position:absolute;top:479.81px;font-size:10.60px;line-height:1;color:#505050;white-space:pre;letter-spacing:-0.040em;right:603.22px;">1</div>
<div style="position:absolute;left:499.50px;top:412.10px;width:497.50px;height:1.00px;background:#e3e3e3;"></div>
<div style="position:absolute;left:499.50px;top:433.10px;width:497.50px;height:22.80px;background:#f1f1f1;"></div>
<div style="position:absolute;left:499.50px;top:477.70px;width:497.50px;height:20.10px;background:#f1f1f1;"></div>
<div style="position:absolute;left:499.50px;top:432.60px;width:497.50px;height:1.00px;background:#e4e4e4;"></div>
<div style="position:absolute;left:499.50px;top:455.40px;width:497.50px;height:1.00px;background:#e4e4e4;"></div>
<div style="position:absolute;left:499.50px;top:477.20px;width:497.50px;height:1.00px;background:#e4e4e4;"></div>
<div style="position:absolute;left:499.50px;top:497.30px;width:497.50px;height:1.00px;background:#e4e4e4;"></div>
<div style="position:absolute;top:418.33px;font-size:10.60px;line-height:1;color:#222;white-space:pre;font-weight:bold;letter-spacing:-0.040em;left:537.60px;">Candidate</div>
<div style="position:absolute;top:418.33px;font-size:10.60px;line-height:1;color:#222;white-space:pre;font-weight:bold;letter-spacing:-0.040em;left:660.00px;">Party</div>
<div style="position:absolute;top:418.33px;font-size:10.60px;line-height:1;color:#222;white-space:pre;font-weight:bold;letter-spacing:-0.040em;right:120.52px;">Electoral Votes</div>
<div style="position:absolute;top:418.33px;font-size:10.60px;line-height:1;color:#222;white-space:pre;font-weight:bold;letter-spacing:-0.040em;right:5.22px;">Popular Votes</div>
<div style="position:absolute;left:512.80px;top:437.60px;width:12.10px;height:12.00px;background:#d22532;"></div>
<div style="position:absolute;top:440.11px;font-size:10.60px;line-height:1;color:#505050;white-space:pre;letter-spacing:-0.040em;left:537.60px;">Ronald Reagan</div>
<div style="position:absolute;top:440.11px;font-size:10.60px;line-height:1;color:#505050;white-space:pre;letter-spacing:-0.040em;left:660.00px;">Republican</div>
<div style="position:absolute;top:440.11px;font-size:10.60px;line-height:1;color:#505050;white-space:pre;letter-spacing:-0.040em;right:120.52px;">489</div>
<div style="position:absolute;top:440.11px;font-size:10.60px;line-height:1;color:#505050;white-space:pre;letter-spacing:-0.040em;right:5.22px;">43,901,812</div>
<div style="position:absolute;left:512.80px;top:460.40px;width:12.10px;height:12.00px;background:#244999;"></div>
<div style="position:absolute;top:461.91px;font-size:10.60px;line-height:1;color:#505050;white-space:pre;letter-spacing:-0.040em;left:537.60px;">Jimmy Carter (I)</div>
<div style="position:absolute;top:461.91px;font-size:10.60px;line-height:1;color:#505050;white-space:pre;letter-spacing:-0.040em;left:660.00px;">Democratic</div>
<div style="position:absolute;top:461.91px;font-size:10.60px;line-height:1;color:#505050;white-space:pre;letter-spacing:-0.040em;right:120.52px;">49</div>
<div style="position:absolute;top:461.91px;font-size:10.60px;line-height:1;color:#505050;white-space:pre;letter-spacing:-0.040em;right:5.22px;">35,483,820</div>
<div style="position:absolute;left:512.80px;top:482.20px;width:12.10px;height:12.00px;background:#d4aa1e;"></div>
<div style="position:absolute;top:484.01px;font-size:10.60px;line-height:1;color:#505050;white-space:pre;letter-spacing:-0.040em;left:537.60px;">John Anderson</div>
<div style="position:absolute;top:484.01px;font-size:10.60px;line-height:1;color:#505050;white-space:pre;letter-spacing:-0.040em;left:660.00px;">Independent</div>
<div style="position:absolute;top:484.01px;font-size:10.60px;line-height:1;color:#505050;white-space:pre;letter-spacing:-0.040em;right:120.52px;">0</div>
<div style="position:absolute;top:484.01px;font-size:10.60px;line-height:1;color:#505050;white-space:pre;letter-spacing:-0.040em;right:5.22px;">5,719,850</div>
<div style="position:absolute;left:0.00px;top:901.30px;width:487.70px;height:1.00px;background:#e3e3e3;"></div>
<div style="position:absolute;left:0.00px;top:923.10px;width:487.70px;height:21.60px;background:#f1f1f1;"></div>
<div style="position:absolute;left:0.00px;top:922.60px;width:487.70px;height:1.00px;background:#e4e4e4;"></div>
<div style="position:absolute;left:0.00px;top:944.20px;width:487.70px;height:1.00px;background:#e4e4e4;"></div>
<div style="position:absolute;left:0.00px;top:965.50px;width:487.70px;height:1.00px;background:#e4e4e4;"></div>
<div style="position:absolute;left:0.00px;top:985.30px;width:487.70px;height:1.00px;background:#e0e0e0;"></div>
<div style="position:absolute;top:908.39px;font-size:10.47px;line-height:1;color:#222;white-space:pre;font-weight:bold;letter-spacing:-0.040em;left:35.60px;">Candidate</div>
<div style="position:absolute;top:908.39px;font-size:10.47px;line-height:1;color:#222;white-space:pre;font-weight:bold;letter-spacing:-0.040em;left:171.00px;">Party</div>
<div style="position:absolute;top:908.39px;font-size:10.47px;line-height:1;color:#222;white-space:pre;font-weight:bold;letter-spacing:-0.040em;right:625.32px;">Electoral Votes</div>
<div style="position:absolute;top:908.39px;font-size:10.47px;line-height:1;color:#222;white-space:pre;font-weight:bold;letter-spacing:-0.040em;right:512.92px;">Popular Votes</div>
<div style="position:absolute;left:11.30px;top:927.55px;width:11.95px;height:11.86px;background:#d22532;"></div>
<div style="position:absolute;top:929.38px;font-size:10.47px;line-height:1;color:#505050;white-space:pre;letter-spacing:-0.040em;left:35.60px;">Ronald Reagan (I)</div>
<div style="position:absolute;top:929.38px;font-size:10.47px;line-height:1;color:#505050;white-space:pre;letter-spacing:-0.040em;left:171.00px;">Republican</div>
<div style="position:absolute;top:929.38px;font-size:10.47px;line-height:1;color:#505050;white-space:pre;letter-spacing:-0.040em;right:625.32px;">525</div>
<div style="position:absolute;top:929.38px;font-size:10.47px;line-height:1;color:#505050;white-space:pre;letter-spacing:-0.040em;right:512.92px;">54,455,075</div>
<div style="position:absolute;left:11.30px;top:949.15px;width:11.95px;height:11.86px;background:#244999;"></div>
<div style="position:absolute;top:950.68px;font-size:10.47px;line-height:1;color:#505050;white-space:pre;letter-spacing:-0.040em;left:35.60px;">Walter F. Mondale</div>
<div style="position:absolute;top:950.68px;font-size:10.47px;line-height:1;color:#505050;white-space:pre;letter-spacing:-0.040em;left:171.00px;">Democratic</div>
<div style="position:absolute;top:950.68px;font-size:10.47px;line-height:1;color:#505050;white-space:pre;letter-spacing:-0.040em;right:625.32px;">13</div>
<div style="position:absolute;top:950.68px;font-size:10.47px;line-height:1;color:#505050;white-space:pre;letter-spacing:-0.040em;right:512.92px;">37,577,185</div>
<div style="position:absolute;left:497.50px;top:914.60px;width:495.20px;height:1.00px;background:#e3e3e3;"></div>
<div style="position:absolute;left:497.50px;top:936.40px;width:495.20px;height:22.60px;background:#f1f1f1;"></div>
<div style="position:absolute;left:497.50px;top:980.80px;width:495.20px;height:19.20px;background:#f1f1f1;"></div>
<div style="position:absolute;left:497.50px;top:935.90px;width:495.20px;height:1.00px;background:#e4e4e4;"></div>
<div style="position:absolute;left:497.50px;top:958.50px;width:495.20px;height:1.00px;background:#e4e4e4;"></div>
<div style="position:absolute;left:497.50px;top:980.30px;width:495.20px;height:1.00px;background:#e4e4e4;"></div>
<div style="position:absolute;left:497.50px;top:1002.10px;width:495.20px;height:1.00px;background:#e4e4e4;"></div>
<div style="position:absolute;top:921.56px;font-size:10.73px;line-height:1;color:#222;white-space:pre;font-weight:bold;letter-spacing:-0.040em;left:524.10px;">Candidate</div>
<div style="position:absolute;top:921.56px;font-size:10.73px;line-height:1;color:#222;white-space:pre;font-weight:bold;letter-spacing:-0.040em;left:720.20px;">Party</div>
<div style="position:absolute;top:921.56px;font-size:10.73px;line-height:1;color:#222;white-space:pre;font-weight:bold;letter-spacing:-0.040em;right:104.53px;">Electoral Votes</div>
<div style="position:absolute;top:921.56px;font-size:10.73px;line-height:1;color:#222;white-space:pre;font-weight:bold;letter-spacing:-0.040em;right:7.73px;">Popular Votes</div>
<div style="position:absolute;left:501.50px;top:940.95px;width:12.25px;height:12.14px;background:#d22532;"></div>
<div style="position:absolute;top:943.04px;font-size:10.73px;line-height:1;color:#505050;white-space:pre;letter-spacing:-0.040em;left:524.10px;">George Bush</div>
<div style="position:absolute;top:943.04px;font-size:10.73px;line-height:1;color:#505050;white-space:pre;letter-spacing:-0.040em;left:720.20px;">Republican</div>
<div style="position:absolute;top:943.04px;font-size:10.73px;line-height:1;color:#505050;white-space:pre;letter-spacing:-0.040em;right:104.53px;">426</div>
<div style="position:absolute;top:943.04px;font-size:10.73px;line-height:1;color:#505050;white-space:pre;letter-spacing:-0.040em;right:7.73px;">48,886,597</div>
<div style="position:absolute;left:501.50px;top:963.55px;width:12.25px;height:12.14px;background:#244999;"></div>
<div style="position:absolute;top:964.84px;font-size:10.73px;line-height:1;color:#505050;white-space:pre;letter-spacing:-0.040em;left:524.10px;">Michael S. Dukakis</div>
<div style="position:absolute;top:964.84px;font-size:10.73px;line-height:1;color:#505050;white-space:pre;letter-spacing:-0.040em;left:720.20px;">Democratic</div>
<div style="position:absolute;top:964.84px;font-size:10.73px;line-height:1;color:#505050;white-space:pre;letter-spacing:-0.040em;right:104.53px;">111</div>
<div style="position:absolute;top:964.84px;font-size:10.73px;line-height:1;color:#505050;white-space:pre;letter-spacing:-0.040em;right:7.73px;">41,809,074</div>
<div style="position:absolute;left:501.50px;top:985.35px;width:12.25px;height:12.14px;background:#3a3a3a;"></div>
<div style="position:absolute;top:986.94px;font-size:10.73px;line-height:1;color:#505050;white-space:pre;letter-spacing:-0.040em;left:524.10px;">Other: See Election Facts Below</div>
<div style="position:absolute;top:986.94px;font-size:10.73px;line-height:1;color:#505050;white-space:pre;letter-spacing:-0.040em;right:104.53px;">1</div>
<svg style="position:absolute;left:200.35px;top:8.60px" width="6.10" height="9.20" viewBox="0 0 6.1 9.2"><path d="M5.2 0.6 L0.9 4.6 L5.2 8.6" fill="none" stroke="#333" stroke-width="1.15"/></svg>
<svg style="position:absolute;left:269.25px;top:8.60px" width="6.10" height="9.20" viewBox="0 0 6.1 9.2"><path d="M0.9 0.6 L5.2 4.6 L0.9 8.6" fill="none" stroke="#333" stroke-width="1.15"/></svg>
<div style="position:absolute;top:3.29px;font-size:16.20px;line-height:1;color:#222;white-space:pre;left:237.50px;transform:translateX(-50%);">1976</div>
<div style="position:absolute;left:34.00px;top:29.30px;width:407.80px;height:7.70px;background:#f4f4f4;box-sizing:border-box;border:1px solid #d4d4d4;border-radius:3.0px;"></div>
<div style="position:absolute;left:357.80px;top:27.00px;width:12.10px;height:11.60px;background:#f6f6f6;box-sizing:border-box;border:1px solid #cbcbcb;border-radius:2.5px;"></div>
<div style="position:absolute;top:49.03px;font-size:10.60px;line-height:1;color:#244999;white-space:pre;font-weight:bold;letter-spacing:-0.040em;left:8.50px;">Carter (D)<span style="padding-left:9.0px">297</span></div>
<div style="position:absolute;top:49.03px;font-size:10.60px;line-height:1;color:#c8283c;white-space:pre;font-weight:bold;letter-spacing:-0.040em;right:531.22px;">240<span style="padding-left:11.0px">Ford (R)</span></div>
<div style="position:absolute;left:8.00px;top:61.00px;width:458.40px;height:17.70px;background:#d22532;"></div>
<div style="position:absolute;left:8.00px;top:61.00px;width:253.53px;height:17.70px;background:#244999;"></div>
<svg style="position:absolute;left:233.20px;top:55.80px" width="8.00" height="30.00" viewBox="0 0 8 30"><path d="M0.4 0 L7.6 0 L4 3.6Z M0.4 28.4 L7.6 28.4 L4 24.8Z" fill="#244999"/></svg>
<svg style="position:absolute;left:701.35px;top:11.10px" width="6.10" height="9.20" viewBox="0 0 6.1 9.2"><path d="M5.2 0.6 L0.9 4.6 L5.2 8.6" fill="none" stroke="#333" stroke-width="1.15"/></svg>
<svg style="position:absolute;left:770.25px;top:11.10px" width="6.10" height="9.20" viewBox="0 0 6.1 9.2"><path d="M0.9 0.6 L5.2 4.6 L0.9 8.6" fill="none" stroke="#333" stroke-width="1.15"/></svg>
<div style="position:absolute;top:5.79px;font-size:16.20px;line-height:1;color:#222;white-space:pre;left:738.50px;transform:translateX(-50%);">1980</div>
<div style="position:absolute;left:535.00px;top:31.80px;width:407.80px;height:7.70px;background:#f4f4f4;box-sizing:border-box;border:1px solid #d4d4d4;border-radius:3.0px;"></div>
<div style="position:absolute;left:865.90px;top:29.50px;width:12.10px;height:11.60px;background:#f6f6f6;box-sizing:border-box;border:1px solid #cbcbcb;border-radius:2.5px;"></div>
<div style="position:absolute;top:51.53px;font-size:10.60px;line-height:1;color:#244999;white-space:pre;font-weight:bold;letter-spacing:-0.040em;left:509.50px;">Carter (D)<span style="padding-left:9.0px">49</span></div>
<div style="position:absolute;top:51.53px;font-size:10.60px;line-height:1;color:#c8283c;white-space:pre;font-weight:bold;letter-spacing:-0.040em;right:30.22px;">489<span style="padding-left:11.0px">Reagan (R)</span></div>
<div style="position:absolute;left:509.00px;top:63.50px;width:458.40px;height:17.70px;background:#d22532;"></div>
<div style="position:absolute;left:509.00px;top:63.50px;width:41.75px;height:17.70px;background:#244999;"></div>
<svg style="position:absolute;left:734.20px;top:58.30px" width="8.00" height="30.00" viewBox="0 0 8 30"><path d="M0.4 0 L7.6 0 L4 3.6Z M0.4 28.4 L7.6 28.4 L4 24.8Z" fill="#d22532"/></svg>
<svg style="position:absolute;left:198.20px;top:507.00px" width="6.03" height="9.09" viewBox="0 0 6.1 9.2"><path d="M5.2 0.6 L0.9 4.6 L5.2 8.6" fill="none" stroke="#333" stroke-width="1.15"/></svg>
<svg style="position:absolute;left:266.27px;top:507.00px" width="6.03" height="9.09" viewBox="0 0 6.1 9.2"><path d="M0.9 0.6 L5.2 4.6 L0.9 8.6" fill="none" stroke="#333" stroke-width="1.15"/></svg>
<div style="position:absolute;top:501.75px;font-size:16.01px;line-height:1;color:#222;white-space:pre;left:234.90px;transform:translateX(-50%);">1984</div>
<div style="position:absolute;left:33.84px;top:527.45px;width:402.91px;height:7.61px;background:#f4f4f4;box-sizing:border-box;border:1px solid #d4d4d4;border-radius:3.0px;"></div>
<div style="position:absolute;left:367.79px;top:525.18px;width:11.95px;height:11.46px;background:#f6f6f6;box-sizing:border-box;border:1px solid #cbcbcb;border-radius:2.5px;"></div>
<div style="position:absolute;top:546.94px;font-size:10.47px;line-height:1;color:#244999;white-space:pre;font-weight:bold;letter-spacing:-0.040em;left:8.65px;">Mondale (D)<span style="padding-left:8.9px">13</span></div>
<div style="position:absolute;top:546.94px;font-size:10.47px;line-height:1;color:#c8283c;white-space:pre;font-weight:bold;letter-spacing:-0.040em;right:536.56px;">525<span style="padding-left:10.9px">Reagan (R)</span></div>
<div style="position:absolute;left:8.15px;top:558.77px;width:452.90px;height:17.49px;background:#d22532;"></div>
<div style="position:absolute;left:8.15px;top:558.77px;width:10.94px;height:17.49px;background:#244999;"></div>
<svg style="position:absolute;left:230.65px;top:553.63px" width="7.90" height="29.64" viewBox="0 0 8 30"><path d="M0.4 0 L7.6 0 L4 3.6Z M0.4 28.4 L7.6 28.4 L4 24.8Z" fill="#d22532"/></svg>
<svg style="position:absolute;left:697.90px;top:511.50px" width="6.17" height="9.31" viewBox="0 0 6.1 9.2"><path d="M5.2 0.6 L0.9 4.6 L5.2 8.6" fill="none" stroke="#333" stroke-width="1.15"/></svg>
<svg style="position:absolute;left:767.63px;top:511.50px" width="6.17" height="9.31" viewBox="0 0 6.1 9.2"><path d="M0.9 0.6 L5.2 4.6 L0.9 8.6" fill="none" stroke="#333" stroke-width="1.15"/></svg>
<div style="position:absolute;top:506.13px;font-size:16.39px;line-height:1;color:#222;white-space:pre;left:735.50px;transform:translateX(-50%);">1988</div>
<div style="position:absolute;left:529.56px;top:532.45px;width:412.69px;height:7.79px;background:#f4f4f4;box-sizing:border-box;border:1px solid #d4d4d4;border-radius:3.0px;"></div>
<div style="position:absolute;left:878.80px;top:530.12px;width:12.25px;height:11.74px;background:#f6f6f6;box-sizing:border-box;border:1px solid #cbcbcb;border-radius:2.5px;"></div>
<div style="position:absolute;top:552.42px;font-size:10.73px;line-height:1;color:#244999;white-space:pre;font-weight:bold;letter-spacing:-0.040em;left:503.75px;">Dukakis (D)<span style="padding-left:9.1px">111</span></div>
<div style="position:absolute;top:552.42px;font-size:10.73px;line-height:1;color:#c8283c;white-space:pre;font-weight:bold;letter-spacing:-0.040em;right:30.48px;">426<span style="padding-left:11.1px">Bush (R)</span></div>
<div style="position:absolute;left:503.25px;top:564.53px;width:463.90px;height:17.91px;background:#d22532;"></div>
<div style="position:absolute;left:503.25px;top:564.53px;width:95.89px;height:17.91px;background:#244999;"></div>
<svg style="position:absolute;left:731.15px;top:559.27px" width="8.10" height="30.36" viewBox="0 0 8 30"><path d="M0.4 0 L7.6 0 L4 3.6Z M0.4 28.4 L7.6 28.4 L4 24.8Z" fill="#d22532"/></svg>
</body></html>
